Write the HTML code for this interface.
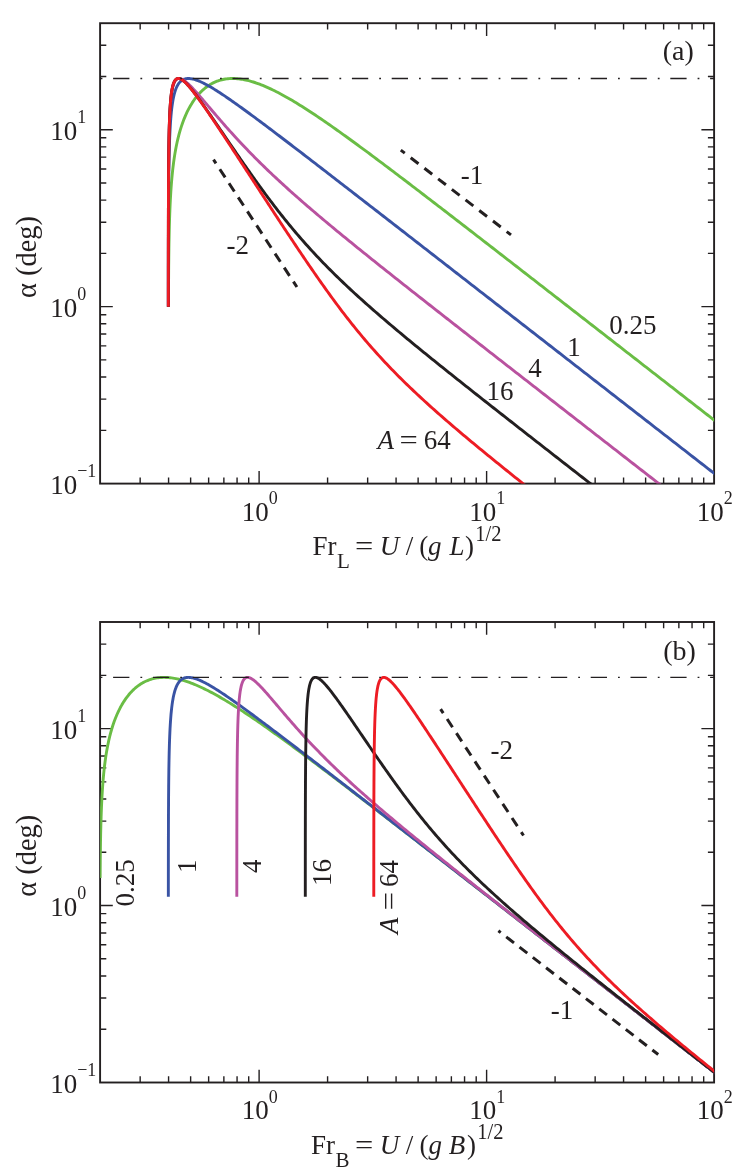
<!DOCTYPE html>
<html><head><meta charset="utf-8"><title>Wake angle</title>
<style>html,body{margin:0;padding:0;background:#fff}svg{display:block;will-change:transform}text{font-family:"Liberation Serif",serif}</style></head>
<body>
<svg width="747" height="1176" viewBox="0 0 747 1176">
<rect width="747" height="1176" fill="#fff"/>
<clipPath id="clipa"><rect x="100.10" y="23.20" width="614.00" height="460.40"/></clipPath>
<rect x="100.10" y="23.20" width="614.00" height="460.40" fill="none" stroke="#231f20" stroke-width="1.9"/>
<g stroke="#231f20" stroke-width="1.4" fill="none"><path d="M140.16,483.60 v-6.20 M140.16,23.20 v6.20"/><path d="M168.58,483.60 v-6.20 M168.58,23.20 v6.20"/><path d="M190.63,483.60 v-6.20 M190.63,23.20 v6.20"/><path d="M208.64,483.60 v-6.20 M208.64,23.20 v6.20"/><path d="M223.87,483.60 v-6.20 M223.87,23.20 v6.20"/><path d="M237.07,483.60 v-6.20 M237.07,23.20 v6.20"/><path d="M248.70,483.60 v-6.20 M248.70,23.20 v6.20"/><path d="M259.11,483.60 v-12.70 M259.11,23.20 v12.70"/><path d="M327.59,483.60 v-6.20 M327.59,23.20 v6.20"/><path d="M367.65,483.60 v-6.20 M367.65,23.20 v6.20"/><path d="M396.08,483.60 v-6.20 M396.08,23.20 v6.20"/><path d="M418.12,483.60 v-6.20 M418.12,23.20 v6.20"/><path d="M436.14,483.60 v-6.20 M436.14,23.20 v6.20"/><path d="M451.37,483.60 v-6.20 M451.37,23.20 v6.20"/><path d="M464.56,483.60 v-6.20 M464.56,23.20 v6.20"/><path d="M476.20,483.60 v-6.20 M476.20,23.20 v6.20"/><path d="M486.61,483.60 v-12.70 M486.61,23.20 v12.70"/><path d="M555.09,483.60 v-6.20 M555.09,23.20 v6.20"/><path d="M595.15,483.60 v-6.20 M595.15,23.20 v6.20"/><path d="M623.57,483.60 v-6.20 M623.57,23.20 v6.20"/><path d="M645.62,483.60 v-6.20 M645.62,23.20 v6.20"/><path d="M663.63,483.60 v-6.20 M663.63,23.20 v6.20"/><path d="M678.86,483.60 v-6.20 M678.86,23.20 v6.20"/><path d="M692.05,483.60 v-6.20 M692.05,23.20 v6.20"/><path d="M703.69,483.60 v-6.20 M703.69,23.20 v6.20"/><path d="M100.10,430.33 h6.20 M714.10,430.33 h-6.20"/><path d="M100.10,399.17 h6.20 M714.10,399.17 h-6.20"/><path d="M100.10,377.07 h6.20 M714.10,377.07 h-6.20"/><path d="M100.10,359.92 h6.20 M714.10,359.92 h-6.20"/><path d="M100.10,345.91 h6.20 M714.10,345.91 h-6.20"/><path d="M100.10,334.06 h6.20 M714.10,334.06 h-6.20"/><path d="M100.10,323.80 h6.20 M714.10,323.80 h-6.20"/><path d="M100.10,314.75 h6.20 M714.10,314.75 h-6.20"/><path d="M100.10,306.65 h12.70 M714.10,306.65 h-12.70"/><path d="M100.10,253.38 h6.20 M714.10,253.38 h-6.20"/><path d="M100.10,222.22 h6.20 M714.10,222.22 h-6.20"/><path d="M100.10,200.12 h6.20 M714.10,200.12 h-6.20"/><path d="M100.10,182.97 h6.20 M714.10,182.97 h-6.20"/><path d="M100.10,168.96 h6.20 M714.10,168.96 h-6.20"/><path d="M100.10,157.11 h6.20 M714.10,157.11 h-6.20"/><path d="M100.10,146.85 h6.20 M714.10,146.85 h-6.20"/><path d="M100.10,137.80 h6.20 M714.10,137.80 h-6.20"/><path d="M100.10,129.70 h12.70 M714.10,129.70 h-12.70"/><path d="M100.10,76.43 h6.20 M714.10,76.43 h-6.20"/><path d="M100.10,45.27 h6.20 M714.10,45.27 h-6.20"/></g>
<g clip-path="url(#clipa)" fill="none" stroke-width="2.9" stroke-linejoin="round">
<path d="M168.45,306.65 L168.46,302.21 L168.48,297.77 L168.50,293.33 L168.52,288.88 L168.55,284.44 L168.58,280.00 L168.61,275.57 L168.64,271.13 L168.68,266.69 L168.73,262.26 L168.78,257.83 L168.83,253.40 L168.89,248.98 L168.96,244.56 L169.04,240.14 L169.13,235.73 L169.22,231.32 L169.33,226.91 L169.45,222.52 L169.59,218.12 L169.74,213.74 L169.91,209.36 L170.10,205.00 L170.31,200.64 L170.55,196.30 L170.81,191.96 L171.10,187.65 L171.42,183.35 L171.78,179.06 L172.18,174.80 L172.62,170.56 L173.11,166.34 L173.64,162.15 L174.23,158.00 L174.88,153.87 L175.59,149.79 L176.36,145.75 L177.21,141.75 L178.13,137.81 L179.14,133.92 L180.22,130.10 L181.40,126.35 L182.66,122.68 L184.02,119.08 L185.48,115.58 L187.03,112.18 L188.69,108.89 L190.44,105.72 L192.31,102.67 L194.28,99.76 L195.05,98.70 L195.84,97.65 L196.65,96.63 L197.47,95.63 L198.30,94.65 L199.15,93.70 L200.02,92.77 L200.90,91.87 L201.80,90.99 L202.71,90.14 L203.64,89.31 L204.58,88.51 L205.54,87.74 L206.51,87.00 L207.50,86.28 L208.51,85.60 L209.53,84.94 L210.56,84.31 L211.61,83.71 L212.68,83.15 L213.76,82.61 L214.85,82.11 L215.96,81.64 L217.09,81.19 L218.23,80.79 L219.39,80.41 L220.56,80.07 L221.75,79.76 L222.95,79.48 L224.17,79.24 L225.40,79.03 L226.65,78.86 L227.92,78.72 L229.20,78.61 L230.49,78.54 L231.80,78.50 L233.13,78.49 L234.47,78.53 L235.82,78.59 L237.20,78.69 L238.58,78.82 L239.99,78.99 L241.40,79.19 L242.83,79.43 L244.28,79.70 L245.75,80.00 L247.22,80.33 L248.72,80.70 L250.22,81.10 L251.75,81.54 L253.28,82.00 L254.84,82.50 L256.40,83.03 L257.98,83.59 L259.58,84.18 L261.19,84.80 L262.81,85.45 L264.45,86.13 L266.10,86.84 L267.77,87.58 L269.45,88.34 L271.14,89.14 L272.85,89.96 L274.57,90.80 L276.30,91.68 L278.04,92.57 L279.80,93.50 L281.57,94.44 L283.35,95.42 L285.14,96.41 L286.95,97.43 L288.76,98.47 L290.59,99.53 L292.43,100.61 L294.28,101.72 L296.14,102.84 L298.01,103.98 L299.89,105.15 L301.78,106.33 L303.67,107.53 L305.58,108.74 L307.50,109.98 L309.42,111.23 L311.36,112.49 L313.30,113.77 L315.25,115.07 L317.21,116.38 L319.18,117.71 L321.15,119.05 L323.13,120.40 L325.12,121.76 L327.12,123.14 L329.12,124.53 L331.13,125.93 L333.14,127.34 L335.16,128.76 L337.18,130.20 L339.22,131.64 L341.25,133.09 L343.29,134.56 L345.34,136.03 L347.39,137.51 L349.45,138.99 L351.51,140.49 L353.58,141.99 L355.64,143.51 L357.72,145.02 L359.80,146.55 L361.88,148.08 L363.96,149.62 L366.05,151.16 L368.14,152.71 L370.24,154.27 L372.33,155.83 L374.44,157.40 L376.54,158.97 L378.65,160.55 L380.76,162.13 L382.87,163.71 L384.98,165.30 L387.10,166.90 L389.22,168.50 L391.34,170.10 L393.46,171.70 L395.59,173.31 L397.71,174.93 L399.84,176.54 L401.97,178.16 L404.11,179.78 L406.24,181.41 L408.38,183.03 L410.51,184.66 L412.65,186.30 L414.79,187.93 L416.93,189.57 L419.08,191.21 L421.22,192.85 L423.36,194.49 L425.51,196.14 L427.66,197.78 L429.81,199.43 L431.96,201.08 L434.11,202.74 L436.26,204.39 L438.41,206.04 L440.56,207.70 L442.72,209.36 L444.87,211.02 L447.02,212.68 L449.18,214.34 L451.34,216.00 L453.49,217.67 L455.65,219.33 L457.81,221.00 L459.97,222.67 L462.13,224.34 L464.29,226.01 L466.45,227.68 L468.61,229.35 L470.77,231.02 L472.93,232.69 L475.10,234.36 L477.26,236.04 L479.42,237.71 L481.59,239.39 L483.75,241.06 L485.91,242.74 L488.08,244.42 L490.24,246.09 L492.41,247.77 L494.57,249.45 L496.74,251.13 L498.91,252.81 L501.07,254.49 L503.24,256.17 L505.40,257.85 L507.57,259.53 L509.74,261.21 L511.91,262.89 L514.07,264.57 L516.24,266.26 L518.41,267.94 L520.58,269.62 L522.74,271.30 L524.91,272.99 L527.08,274.67 L529.25,276.35 L531.42,278.04 L533.59,279.72 L535.76,281.41 L537.93,283.09 L540.10,284.78 L542.26,286.46 L544.43,288.15 L546.60,289.83 L548.77,291.52 L550.94,293.20 L553.11,294.89 L555.28,296.58 L557.45,298.26 L559.62,299.95 L561.79,301.64 L563.96,303.32 L566.13,305.01 L568.30,306.70 L570.47,308.38 L572.64,310.07 L574.82,311.76 L576.99,313.44 L579.16,315.13 L581.33,316.82 L583.50,318.51 L585.67,320.19 L587.84,321.88 L590.01,323.57 L592.18,325.26 L594.35,326.94 L596.52,328.63 L598.69,330.32 L600.87,332.01 L603.04,333.70 L605.21,335.38 L607.38,337.07 L609.55,338.76 L611.72,340.45 L613.89,342.14 L616.06,343.83 L618.23,345.51 L620.41,347.20 L622.58,348.89 L624.75,350.58 L626.92,352.27 L629.09,353.96 L631.26,355.64 L633.43,357.33 L635.61,359.02 L637.78,360.71 L639.95,362.40 L642.12,364.09 L644.29,365.78 L646.46,367.47 L648.63,369.15 L650.81,370.84 L652.98,372.53 L655.15,374.22 L657.32,375.91 L659.49,377.60 L661.66,379.29 L663.83,380.98 L666.01,382.67 L668.18,384.35 L670.35,386.04 L672.52,387.73 L674.69,389.42 L676.86,391.11 L679.04,392.80 L681.21,394.49 L683.38,396.18 L685.55,397.87 L687.72,399.55 L689.89,401.24 L692.07,402.93 L694.24,404.62 L696.41,406.31 L698.58,408.00 L700.75,409.69 L702.92,411.38 L705.10,413.07 L707.27,414.76 L709.44,416.45 L711.61,418.13 L713.78,419.82 L715.95,421.51 L718.13,423.20 L720.30,424.89 L722.47,426.58 L724.64,428.27 L726.81,429.96 L728.98,431.65 L731.16,433.34 L733.33,435.03 L735.50,436.72 L737.67,438.40 L739.84,440.09" stroke="#6abd45"/>
<path d="M168.34,306.65 L168.34,302.21 L168.34,297.77 L168.34,293.33 L168.34,288.88 L168.35,284.44 L168.35,280.00 L168.35,275.57 L168.36,271.13 L168.36,266.69 L168.37,262.26 L168.37,257.83 L168.38,253.40 L168.39,248.98 L168.40,244.56 L168.41,240.14 L168.42,235.73 L168.43,231.32 L168.44,226.91 L168.46,222.52 L168.47,218.12 L168.49,213.74 L168.51,209.36 L168.54,205.00 L168.56,200.64 L168.59,196.30 L168.63,191.96 L168.66,187.65 L168.71,183.35 L168.75,179.06 L168.81,174.80 L168.86,170.56 L168.93,166.34 L169.01,162.15 L169.09,158.00 L169.18,153.87 L169.29,149.79 L169.40,145.75 L169.54,141.75 L169.68,137.81 L169.85,133.92 L170.03,130.10 L170.24,126.35 L170.47,122.68 L170.73,119.08 L171.01,115.58 L171.34,112.18 L171.69,108.89 L172.09,105.72 L172.54,102.67 L173.03,99.76 L173.23,98.70 L173.44,97.65 L173.66,96.63 L173.89,95.63 L174.12,94.65 L174.37,93.70 L174.62,92.77 L174.89,91.87 L175.16,90.99 L175.45,90.14 L175.75,89.31 L176.05,88.51 L176.38,87.74 L176.71,87.00 L177.05,86.28 L177.41,85.60 L177.78,84.94 L178.17,84.31 L178.57,83.71 L178.98,83.15 L179.41,82.61 L179.86,82.11 L180.32,81.64 L180.79,81.19 L181.29,80.79 L181.80,80.41 L182.32,80.07 L182.87,79.76 L183.43,79.48 L184.01,79.24 L184.61,79.03 L185.23,78.86 L185.87,78.72 L186.53,78.61 L187.21,78.54 L187.91,78.50 L188.64,78.49 L189.38,78.53 L190.14,78.59 L190.93,78.69 L191.74,78.82 L192.57,78.99 L193.42,79.19 L194.30,79.43 L195.20,79.70 L196.12,80.00 L197.07,80.33 L198.04,80.70 L199.03,81.10 L200.05,81.54 L201.09,82.00 L202.16,82.50 L203.25,83.03 L204.36,83.59 L205.49,84.18 L206.66,84.80 L207.84,85.45 L209.05,86.13 L210.28,86.84 L211.53,87.58 L212.81,88.34 L214.11,89.14 L215.44,89.96 L216.78,90.80 L218.15,91.68 L219.54,92.57 L220.95,93.50 L222.39,94.44 L223.84,95.42 L225.32,96.41 L226.82,97.43 L228.33,98.47 L229.87,99.53 L231.43,100.61 L233.00,101.72 L234.60,102.84 L236.21,103.98 L237.84,105.15 L239.49,106.33 L241.16,107.53 L242.84,108.74 L244.54,109.98 L246.26,111.23 L247.99,112.49 L249.73,113.77 L251.49,115.07 L253.27,116.38 L255.06,117.71 L256.86,119.05 L258.68,120.40 L260.51,121.76 L262.35,123.14 L264.21,124.53 L266.07,125.93 L267.95,127.34 L269.84,128.76 L271.74,130.20 L273.64,131.64 L275.56,133.09 L277.49,134.56 L279.43,136.03 L281.38,137.51 L283.33,138.99 L285.30,140.49 L287.27,141.99 L289.25,143.51 L291.24,145.02 L293.23,146.55 L295.24,148.08 L297.24,149.62 L299.26,151.16 L301.28,152.71 L303.31,154.27 L305.34,155.83 L307.38,157.40 L309.42,158.97 L311.47,160.55 L313.53,162.13 L315.59,163.71 L317.65,165.30 L319.72,166.90 L321.79,168.50 L323.87,170.10 L325.95,171.70 L328.03,173.31 L330.12,174.93 L332.21,176.54 L334.31,178.16 L336.41,179.78 L338.51,181.41 L340.61,183.03 L342.72,184.66 L344.83,186.30 L346.94,187.93 L349.05,189.57 L351.17,191.21 L353.29,192.85 L355.41,194.49 L357.54,196.14 L359.66,197.78 L361.79,199.43 L363.92,201.08 L366.05,202.74 L368.18,204.39 L370.32,206.04 L372.45,207.70 L374.59,209.36 L376.73,211.02 L378.87,212.68 L381.01,214.34 L383.16,216.00 L385.30,217.67 L387.45,219.33 L389.59,221.00 L391.74,222.67 L393.89,224.34 L396.04,226.01 L398.19,227.68 L400.34,229.35 L402.49,231.02 L404.65,232.69 L406.80,234.36 L408.95,236.04 L411.11,237.71 L413.27,239.39 L415.42,241.06 L417.58,242.74 L419.74,244.42 L421.90,246.09 L424.06,247.77 L426.22,249.45 L428.38,251.13 L430.54,252.81 L432.70,254.49 L434.86,256.17 L437.02,257.85 L439.19,259.53 L441.35,261.21 L443.51,262.89 L445.68,264.57 L447.84,266.26 L450.00,267.94 L452.17,269.62 L454.33,271.30 L456.50,272.99 L458.66,274.67 L460.83,276.35 L463.00,278.04 L465.16,279.72 L467.33,281.41 L469.50,283.09 L471.66,284.78 L473.83,286.46 L476.00,288.15 L478.16,289.83 L480.33,291.52 L482.50,293.20 L484.67,294.89 L486.84,296.58 L489.01,298.26 L491.17,299.95 L493.34,301.64 L495.51,303.32 L497.68,305.01 L499.85,306.70 L502.02,308.38 L504.19,310.07 L506.36,311.76 L508.53,313.44 L510.70,315.13 L512.87,316.82 L515.04,318.51 L517.21,320.19 L519.38,321.88 L521.55,323.57 L523.72,325.26 L525.89,326.94 L528.06,328.63 L530.23,330.32 L532.40,332.01 L534.57,333.70 L536.74,335.38 L538.91,337.07 L541.08,338.76 L543.25,340.45 L545.42,342.14 L547.59,343.83 L549.76,345.51 L551.93,347.20 L554.10,348.89 L556.27,350.58 L558.45,352.27 L560.62,353.96 L562.79,355.64 L564.96,357.33 L567.13,359.02 L569.30,360.71 L571.47,362.40 L573.64,364.09 L575.81,365.78 L577.99,367.47 L580.16,369.15 L582.33,370.84 L584.50,372.53 L586.67,374.22 L588.84,375.91 L591.01,377.60 L593.18,379.29 L595.36,380.98 L597.53,382.67 L599.70,384.35 L601.87,386.04 L604.04,387.73 L606.21,389.42 L608.39,391.11 L610.56,392.80 L612.73,394.49 L614.90,396.18 L617.07,397.87 L619.24,399.55 L621.41,401.24 L623.59,402.93 L625.76,404.62 L627.93,406.31 L630.10,408.00 L632.27,409.69 L634.44,411.38 L636.62,413.07 L638.79,414.76 L640.96,416.45 L643.13,418.13 L645.30,419.82 L647.47,421.51 L649.65,423.20 L651.82,424.89 L653.99,426.58 L656.16,428.27 L658.33,429.96 L660.50,431.65 L662.68,433.34 L664.85,435.03 L667.02,436.72 L669.19,438.40 L671.36,440.09 L673.53,441.78 L675.71,443.47 L677.88,445.16 L680.05,446.85 L682.22,448.54 L684.39,450.23 L686.56,451.92 L688.74,453.61 L690.91,455.30 L693.08,456.99 L695.25,458.68 L697.42,460.36 L699.59,462.05 L701.77,463.74 L703.94,465.43 L706.11,467.12 L708.28,468.81 L710.45,470.50 L712.62,472.19 L714.80,473.88 L716.97,475.57 L719.14,477.26 L721.31,478.95 L723.48,480.64 L725.66,482.32 L727.83,484.01 L730.00,485.70 L732.17,487.39 L734.34,489.08 L736.51,490.77 L738.69,492.46" stroke="#3953a4"/>
<path d="M168.33,306.65 L168.33,302.21 L168.33,297.77 L168.33,293.33 L168.33,288.88 L168.34,284.44 L168.34,280.00 L168.34,275.57 L168.34,271.13 L168.34,266.69 L168.35,262.26 L168.35,257.83 L168.35,253.40 L168.36,248.98 L168.36,244.56 L168.37,240.14 L168.37,235.73 L168.38,231.32 L168.39,226.91 L168.39,222.52 L168.40,218.12 L168.41,213.74 L168.42,209.36 L168.44,205.00 L168.45,200.64 L168.47,196.30 L168.48,191.96 L168.50,187.65 L168.53,183.35 L168.55,179.06 L168.58,174.80 L168.61,170.56 L168.65,166.34 L168.68,162.15 L168.73,158.00 L168.78,153.87 L168.83,149.79 L168.90,145.75 L168.97,141.75 L169.05,137.81 L169.13,133.92 L169.23,130.10 L169.34,126.35 L169.46,122.68 L169.60,119.08 L169.75,115.58 L169.92,112.18 L170.12,108.89 L170.33,105.72 L170.57,102.67 L170.83,99.76 L170.94,98.70 L171.05,97.65 L171.17,96.63 L171.29,95.63 L171.41,94.65 L171.54,93.70 L171.68,92.77 L171.82,91.87 L171.97,90.99 L172.12,90.14 L172.28,89.31 L172.45,88.51 L172.62,87.74 L172.80,87.00 L172.98,86.28 L173.18,85.60 L173.38,84.94 L173.58,84.31 L173.80,83.71 L174.02,83.15 L174.25,82.61 L174.49,82.11 L174.74,81.64 L175.00,81.19 L175.26,80.79 L175.54,80.41 L175.82,80.07 L176.12,79.76 L176.42,79.48 L176.74,79.24 L177.06,79.03 L177.40,78.86 L177.75,78.72 L178.11,78.61 L178.48,78.54 L178.86,78.50 L179.25,78.49 L179.66,78.53 L180.08,78.59 L180.51,78.69 L180.95,78.82 L181.40,78.99 L181.87,79.19 L182.36,79.43 L182.85,79.70 L183.36,80.00 L183.89,80.33 L184.42,80.70 L184.97,81.10 L185.54,81.54 L186.12,82.00 L186.71,82.50 L187.32,83.03 L187.94,83.59 L188.58,84.18 L189.24,84.80 L189.90,85.45 L190.59,86.13 L191.28,86.84 L192.00,87.58 L192.72,88.34 L193.47,89.14 L194.23,89.96 L195.00,90.80 L195.79,91.68 L196.59,92.57 L197.41,93.50 L198.25,94.44 L199.10,95.42 L199.96,96.41 L200.84,97.43 L201.74,98.47 L202.65,99.53 L203.58,100.61 L204.52,101.72 L205.48,102.84 L206.45,103.98 L207.44,105.15 L208.44,106.33 L209.46,107.53 L210.49,108.74 L211.54,109.98 L212.61,111.23 L213.69,112.49 L214.78,113.77 L215.89,115.07 L217.02,116.38 L218.16,117.71 L219.31,119.05 L220.48,120.40 L221.67,121.76 L222.87,123.14 L224.09,124.53 L225.32,125.93 L226.57,127.34 L227.83,128.76 L229.11,130.20 L230.41,131.64 L231.72,133.09 L233.04,134.56 L234.38,136.03 L235.74,137.51 L237.11,138.99 L238.49,140.49 L239.89,141.99 L241.31,143.51 L242.74,145.02 L244.19,146.55 L245.65,148.08 L247.13,149.62 L248.62,151.16 L250.12,152.71 L251.65,154.27 L253.18,155.83 L254.73,157.40 L256.30,158.97 L257.88,160.55 L259.47,162.13 L261.08,163.71 L262.71,165.30 L264.34,166.90 L265.99,168.50 L267.66,170.10 L269.34,171.70 L271.03,173.31 L272.73,174.93 L274.45,176.54 L276.18,178.16 L277.93,179.78 L279.68,181.41 L281.45,183.03 L283.23,184.66 L285.02,186.30 L286.83,187.93 L288.64,189.57 L290.47,191.21 L292.31,192.85 L294.16,194.49 L296.01,196.14 L297.88,197.78 L299.76,199.43 L301.65,201.08 L303.55,202.74 L305.46,204.39 L307.37,206.04 L309.30,207.70 L311.23,209.36 L313.17,211.02 L315.12,212.68 L317.08,214.34 L319.05,216.00 L321.02,217.67 L323.00,219.33 L324.99,221.00 L326.98,222.67 L328.99,224.34 L330.99,226.01 L333.01,227.68 L335.03,229.35 L337.05,231.02 L339.08,232.69 L341.12,234.36 L343.16,236.04 L345.21,237.71 L347.26,239.39 L349.31,241.06 L351.37,242.74 L353.44,244.42 L355.51,246.09 L357.58,247.77 L359.66,249.45 L361.74,251.13 L363.82,252.81 L365.91,254.49 L368.00,256.17 L370.10,257.85 L372.20,259.53 L374.30,261.21 L376.40,262.89 L378.51,264.57 L380.62,266.26 L382.73,267.94 L384.84,269.62 L386.96,271.30 L389.08,272.99 L391.20,274.67 L393.32,276.35 L395.45,278.04 L397.57,279.72 L399.70,281.41 L401.83,283.09 L403.97,284.78 L406.10,286.46 L408.23,288.15 L410.37,289.83 L412.51,291.52 L414.65,293.20 L416.79,294.89 L418.93,296.58 L421.08,298.26 L423.22,299.95 L425.37,301.64 L427.52,303.32 L429.66,305.01 L431.81,306.70 L433.96,308.38 L436.12,310.07 L438.27,311.76 L440.42,313.44 L442.57,315.13 L444.73,316.82 L446.88,318.51 L449.04,320.19 L451.20,321.88 L453.35,323.57 L455.51,325.26 L457.67,326.94 L459.83,328.63 L461.99,330.32 L464.15,332.01 L466.31,333.70 L468.47,335.38 L470.63,337.07 L472.79,338.76 L474.95,340.45 L477.12,342.14 L479.28,343.83 L481.44,345.51 L483.61,347.20 L485.77,348.89 L487.94,350.58 L490.10,352.27 L492.27,353.96 L494.43,355.64 L496.60,357.33 L498.76,359.02 L500.93,360.71 L503.10,362.40 L505.26,364.09 L507.43,365.78 L509.60,367.47 L511.76,369.15 L513.93,370.84 L516.10,372.53 L518.27,374.22 L520.43,375.91 L522.60,377.60 L524.77,379.29 L526.94,380.98 L529.11,382.67 L531.28,384.35 L533.45,386.04 L535.61,387.73 L537.78,389.42 L539.95,391.11 L542.12,392.80 L544.29,394.49 L546.46,396.18 L548.63,397.87 L550.80,399.55 L552.97,401.24 L555.14,402.93 L557.31,404.62 L559.48,406.31 L561.65,408.00 L563.82,409.69 L565.99,411.38 L568.16,413.07 L570.33,414.76 L572.50,416.45 L574.67,418.13 L576.84,419.82 L579.01,421.51 L581.18,423.20 L583.35,424.89 L585.53,426.58 L587.70,428.27 L589.87,429.96 L592.04,431.65 L594.21,433.34 L596.38,435.03 L598.55,436.72 L600.72,438.40 L602.89,440.09 L605.06,441.78 L607.24,443.47 L609.41,445.16 L611.58,446.85 L613.75,448.54 L615.92,450.23 L618.09,451.92 L620.26,453.61 L622.43,455.30 L624.61,456.99 L626.78,458.68 L628.95,460.36 L631.12,462.05 L633.29,463.74 L635.46,465.43 L637.63,467.12 L639.81,468.81 L641.98,470.50 L644.15,472.19 L646.32,473.88 L648.49,475.57 L650.66,477.26 L652.83,478.95 L655.01,480.64 L657.18,482.32 L659.35,484.01 L661.52,485.70 L663.69,487.39 L665.86,489.08 L668.04,490.77 L670.21,492.46 L672.38,494.15 L674.55,495.84 L676.72,497.53 L678.89,499.22 L681.06,500.91 L683.24,502.60 L685.41,504.28 L687.58,505.97 L689.75,507.66 L691.92,509.35" stroke="#b9529f"/>
<path d="M168.33,306.65 L168.33,302.21 L168.33,297.77 L168.33,293.33 L168.33,288.88 L168.33,284.44 L168.34,280.00 L168.34,275.57 L168.34,271.13 L168.34,266.69 L168.35,262.26 L168.35,257.83 L168.35,253.40 L168.36,248.98 L168.36,244.56 L168.36,240.14 L168.37,235.73 L168.38,231.32 L168.38,226.91 L168.39,222.52 L168.40,218.12 L168.41,213.74 L168.42,209.36 L168.43,205.00 L168.44,200.64 L168.46,196.30 L168.47,191.96 L168.49,187.65 L168.51,183.35 L168.54,179.06 L168.56,174.80 L168.59,170.56 L168.63,166.34 L168.66,162.15 L168.71,158.00 L168.75,153.87 L168.81,149.79 L168.86,145.75 L168.93,141.75 L169.00,137.81 L169.09,133.92 L169.18,130.10 L169.28,126.35 L169.40,122.68 L169.53,119.08 L169.67,115.58 L169.83,112.18 L170.01,108.89 L170.21,105.72 L170.44,102.67 L170.68,99.76 L170.79,98.70 L170.89,97.65 L171.00,96.63 L171.11,95.63 L171.23,94.65 L171.36,93.70 L171.48,92.77 L171.62,91.87 L171.76,90.99 L171.90,90.14 L172.05,89.31 L172.20,88.51 L172.37,87.74 L172.53,87.00 L172.71,86.28 L172.89,85.60 L173.07,84.94 L173.27,84.31 L173.47,83.71 L173.68,83.15 L173.89,82.61 L174.11,82.11 L174.35,81.64 L174.59,81.19 L174.83,80.79 L175.09,80.41 L175.35,80.07 L175.63,79.76 L175.91,79.48 L176.20,79.24 L176.51,79.03 L176.82,78.86 L177.14,78.72 L177.47,78.61 L177.81,78.54 L178.16,78.50 L178.53,78.49 L178.90,78.53 L179.29,78.59 L179.68,78.69 L180.09,78.82 L180.51,78.99 L180.94,79.19 L181.38,79.43 L181.83,79.70 L182.29,80.00 L182.77,80.33 L183.26,80.70 L183.76,81.10 L184.27,81.54 L184.80,82.00 L185.33,82.50 L185.88,83.03 L186.44,83.59 L187.02,84.18 L187.60,84.80 L188.20,85.45 L188.81,86.13 L189.43,86.84 L190.06,87.58 L190.71,88.34 L191.36,89.14 L192.03,89.96 L192.71,90.80 L193.40,91.68 L194.11,92.57 L194.82,93.50 L195.55,94.44 L196.28,95.42 L197.03,96.41 L197.79,97.43 L198.55,98.47 L199.33,99.53 L200.12,100.61 L200.92,101.72 L201.73,102.84 L202.55,103.98 L203.38,105.15 L204.22,106.33 L205.06,107.53 L205.92,108.74 L206.78,109.98 L207.66,111.23 L208.54,112.49 L209.43,113.77 L210.33,115.07 L211.23,116.38 L212.15,117.71 L213.07,119.05 L214.00,120.40 L214.94,121.76 L215.88,123.14 L216.83,124.53 L217.79,125.93 L218.76,127.34 L219.73,128.76 L220.71,130.20 L221.69,131.64 L222.68,133.09 L223.68,134.56 L224.68,136.03 L225.69,137.51 L226.70,138.99 L227.73,140.49 L228.75,141.99 L229.78,143.51 L230.82,145.02 L231.87,146.55 L232.91,148.08 L233.97,149.62 L235.03,151.16 L236.09,152.71 L237.16,154.27 L238.24,155.83 L239.32,157.40 L240.41,158.97 L241.50,160.55 L242.59,162.13 L243.70,163.71 L244.80,165.30 L245.92,166.90 L247.04,168.50 L248.16,170.10 L249.29,171.70 L250.42,173.31 L251.56,174.93 L252.71,176.54 L253.86,178.16 L255.02,179.78 L256.18,181.41 L257.35,183.03 L258.53,184.66 L259.71,186.30 L260.90,187.93 L262.09,189.57 L263.29,191.21 L264.50,192.85 L265.71,194.49 L266.93,196.14 L268.16,197.78 L269.40,199.43 L270.64,201.08 L271.89,202.74 L273.15,204.39 L274.42,206.04 L275.69,207.70 L276.97,209.36 L278.26,211.02 L279.56,212.68 L280.87,214.34 L282.19,216.00 L283.51,217.67 L284.85,219.33 L286.19,221.00 L287.55,222.67 L288.91,224.34 L290.29,226.01 L291.67,227.68 L293.06,229.35 L294.47,231.02 L295.88,232.69 L297.31,234.36 L298.75,236.04 L300.19,237.71 L301.65,239.39 L303.12,241.06 L304.61,242.74 L306.10,244.42 L307.60,246.09 L309.12,247.77 L310.65,249.45 L312.19,251.13 L313.74,252.81 L315.30,254.49 L316.88,256.17 L318.47,257.85 L320.07,259.53 L321.68,261.21 L323.31,262.89 L324.94,264.57 L326.59,266.26 L328.25,267.94 L329.93,269.62 L331.61,271.30 L333.31,272.99 L335.02,274.67 L336.74,276.35 L338.47,278.04 L340.21,279.72 L341.97,281.41 L343.73,283.09 L345.51,284.78 L347.30,286.46 L349.10,288.15 L350.91,289.83 L352.73,291.52 L354.56,293.20 L356.40,294.89 L358.25,296.58 L360.11,298.26 L361.98,299.95 L363.86,301.64 L365.75,303.32 L367.65,305.01 L369.56,306.70 L371.48,308.38 L373.40,310.07 L375.34,311.76 L377.28,313.44 L379.23,315.13 L381.18,316.82 L383.15,318.51 L385.12,320.19 L387.10,321.88 L389.09,323.57 L391.08,325.26 L393.08,326.94 L395.08,328.63 L397.09,330.32 L399.11,332.01 L401.13,333.70 L403.16,335.38 L405.20,337.07 L407.24,338.76 L409.28,340.45 L411.33,342.14 L413.38,343.83 L415.44,345.51 L417.50,347.20 L419.57,348.89 L421.64,350.58 L423.72,352.27 L425.80,353.96 L427.88,355.64 L429.97,357.33 L432.05,359.02 L434.15,360.71 L436.24,362.40 L438.34,364.09 L440.44,365.78 L442.55,367.47 L444.66,369.15 L446.77,370.84 L448.88,372.53 L450.99,374.22 L453.11,375.91 L455.23,377.60 L457.35,379.29 L459.48,380.98 L461.60,382.67 L463.73,384.35 L465.86,386.04 L467.99,387.73 L470.12,389.42 L472.26,391.11 L474.39,392.80 L476.53,394.49 L478.67,396.18 L480.81,397.87 L482.95,399.55 L485.09,401.24 L487.24,402.93 L489.38,404.62 L491.53,406.31 L493.68,408.00 L495.83,409.69 L497.98,411.38 L500.13,413.07 L502.28,414.76 L504.43,416.45 L506.58,418.13 L508.74,419.82 L510.89,421.51 L513.05,423.20 L515.20,424.89 L517.36,426.58 L519.52,428.27 L521.67,429.96 L523.83,431.65 L525.99,433.34 L528.15,435.03 L530.31,436.72 L532.47,438.40 L534.63,440.09 L536.80,441.78 L538.96,443.47 L541.12,445.16 L543.28,446.85 L545.45,448.54 L547.61,450.23 L549.77,451.92 L551.94,453.61 L554.10,455.30 L556.27,456.99 L558.43,458.68 L560.60,460.36 L562.76,462.05 L564.93,463.74 L567.10,465.43 L569.26,467.12 L571.43,468.81 L573.60,470.50 L575.76,472.19 L577.93,473.88 L580.10,475.57 L582.27,477.26 L584.43,478.95 L586.60,480.64 L588.77,482.32 L590.94,484.01 L593.11,485.70 L595.27,487.39 L597.44,489.08 L599.61,490.77 L601.78,492.46 L603.95,494.15 L606.12,495.84 L608.29,497.53 L610.46,499.22 L612.63,500.91 L614.80,502.60 L616.97,504.28 L619.14,505.97 L621.31,507.66 L623.48,509.35" stroke="#231f20"/>
<path d="M168.33,306.65 L168.33,302.21 L168.33,297.77 L168.33,293.33 L168.33,288.88 L168.33,284.44 L168.34,280.00 L168.34,275.57 L168.34,271.13 L168.34,266.69 L168.34,262.26 L168.35,257.83 L168.35,253.40 L168.35,248.98 L168.36,244.56 L168.36,240.14 L168.37,235.73 L168.37,231.32 L168.38,226.91 L168.39,222.52 L168.40,218.12 L168.41,213.74 L168.42,209.36 L168.43,205.00 L168.44,200.64 L168.46,196.30 L168.47,191.96 L168.49,187.65 L168.51,183.35 L168.54,179.06 L168.56,174.80 L168.59,170.56 L168.63,166.34 L168.66,162.15 L168.71,158.00 L168.75,153.87 L168.80,149.79 L168.86,145.75 L168.93,141.75 L169.00,137.81 L169.08,133.92 L169.18,130.10 L169.28,126.35 L169.40,122.68 L169.52,119.08 L169.67,115.58 L169.83,112.18 L170.01,108.89 L170.21,105.72 L170.43,102.67 L170.68,99.76 L170.78,98.70 L170.88,97.65 L170.99,96.63 L171.10,95.63 L171.22,94.65 L171.34,93.70 L171.47,92.77 L171.60,91.87 L171.74,90.99 L171.89,90.14 L172.03,89.31 L172.19,88.51 L172.35,87.74 L172.52,87.00 L172.69,86.28 L172.87,85.60 L173.05,84.94 L173.25,84.31 L173.45,83.71 L173.65,83.15 L173.87,82.61 L174.09,82.11 L174.32,81.64 L174.56,81.19 L174.81,80.79 L175.06,80.41 L175.32,80.07 L175.60,79.76 L175.88,79.48 L176.17,79.24 L176.47,79.03 L176.78,78.86 L177.10,78.72 L177.43,78.61 L177.77,78.54 L178.12,78.50 L178.48,78.49 L178.85,78.53 L179.24,78.59 L179.63,78.69 L180.03,78.82 L180.45,78.99 L180.88,79.19 L181.31,79.43 L181.76,79.70 L182.23,80.00 L182.70,80.33 L183.19,80.70 L183.68,81.10 L184.19,81.54 L184.71,82.00 L185.24,82.50 L185.79,83.03 L186.35,83.59 L186.91,84.18 L187.50,84.80 L188.09,85.45 L188.69,86.13 L189.31,86.84 L189.94,87.58 L190.57,88.34 L191.23,89.14 L191.89,89.96 L192.56,90.80 L193.25,91.68 L193.94,92.57 L194.65,93.50 L195.37,94.44 L196.09,95.42 L196.83,96.41 L197.58,97.43 L198.34,98.47 L199.11,99.53 L199.89,100.61 L200.68,101.72 L201.48,102.84 L202.28,103.98 L203.10,105.15 L203.93,106.33 L204.76,107.53 L205.60,108.74 L206.45,109.98 L207.31,111.23 L208.18,112.49 L209.05,113.77 L209.93,115.07 L210.82,116.38 L211.72,117.71 L212.62,119.05 L213.53,120.40 L214.45,121.76 L215.37,123.14 L216.30,124.53 L217.23,125.93 L218.17,127.34 L219.12,128.76 L220.07,130.20 L221.03,131.64 L221.99,133.09 L222.96,134.56 L223.93,136.03 L224.90,137.51 L225.88,138.99 L226.87,140.49 L227.86,141.99 L228.85,143.51 L229.85,145.02 L230.85,146.55 L231.85,148.08 L232.86,149.62 L233.87,151.16 L234.88,152.71 L235.90,154.27 L236.92,155.83 L237.95,157.40 L238.97,158.97 L240.00,160.55 L241.03,162.13 L242.07,163.71 L243.10,165.30 L244.14,166.90 L245.19,168.50 L246.23,170.10 L247.28,171.70 L248.32,173.31 L249.37,174.93 L250.43,176.54 L251.48,178.16 L252.54,179.78 L253.60,181.41 L254.66,183.03 L255.72,184.66 L256.78,186.30 L257.85,187.93 L258.91,189.57 L259.98,191.21 L261.05,192.85 L262.13,194.49 L263.20,196.14 L264.27,197.78 L265.35,199.43 L266.43,201.08 L267.51,202.74 L268.59,204.39 L269.67,206.04 L270.75,207.70 L271.84,209.36 L272.93,211.02 L274.01,212.68 L275.10,214.34 L276.19,216.00 L277.29,217.67 L278.38,219.33 L279.48,221.00 L280.57,222.67 L281.67,224.34 L282.77,226.01 L283.87,227.68 L284.98,229.35 L286.08,231.02 L287.19,232.69 L288.30,234.36 L289.41,236.04 L290.52,237.71 L291.63,239.39 L292.75,241.06 L293.86,242.74 L294.98,244.42 L296.11,246.09 L297.23,247.77 L298.35,249.45 L299.48,251.13 L300.61,252.81 L301.74,254.49 L302.88,256.17 L304.02,257.85 L305.16,259.53 L306.30,261.21 L307.45,262.89 L308.59,264.57 L309.75,266.26 L310.90,267.94 L312.06,269.62 L313.22,271.30 L314.38,272.99 L315.55,274.67 L316.72,276.35 L317.90,278.04 L319.08,279.72 L320.26,281.41 L321.45,283.09 L322.64,284.78 L323.83,286.46 L325.04,288.15 L326.24,289.83 L327.45,291.52 L328.67,293.20 L329.89,294.89 L331.11,296.58 L332.35,298.26 L333.58,299.95 L334.83,301.64 L336.08,303.32 L337.33,305.01 L338.60,306.70 L339.86,308.38 L341.14,310.07 L342.42,311.76 L343.71,313.44 L345.01,315.13 L346.32,316.82 L347.63,318.51 L348.95,320.19 L350.28,321.88 L351.62,323.57 L352.97,325.26 L354.32,326.94 L355.69,328.63 L357.06,330.32 L358.45,332.01 L359.84,333.70 L361.24,335.38 L362.66,337.07 L364.08,338.76 L365.51,340.45 L366.96,342.14 L368.41,343.83 L369.88,345.51 L371.35,347.20 L372.84,348.89 L374.34,350.58 L375.85,352.27 L377.37,353.96 L378.90,355.64 L380.45,357.33 L382.01,359.02 L383.57,360.71 L385.15,362.40 L386.75,364.09 L388.35,365.78 L389.97,367.47 L391.59,369.15 L393.23,370.84 L394.88,372.53 L396.55,374.22 L398.22,375.91 L399.91,377.60 L401.61,379.29 L403.32,380.98 L405.04,382.67 L406.78,384.35 L408.52,386.04 L410.28,387.73 L412.05,389.42 L413.82,391.11 L415.61,392.80 L417.42,394.49 L419.23,396.18 L421.05,397.87 L422.88,399.55 L424.72,401.24 L426.58,402.93 L428.44,404.62 L430.31,406.31 L432.19,408.00 L434.08,409.69 L435.98,411.38 L437.89,413.07 L439.81,414.76 L441.73,416.45 L443.67,418.13 L445.61,419.82 L447.56,421.51 L449.52,423.20 L451.48,424.89 L453.45,426.58 L455.43,428.27 L457.42,429.96 L459.41,431.65 L461.41,433.34 L463.42,435.03 L465.43,436.72 L467.45,438.40 L469.47,440.09 L471.50,441.78 L473.53,443.47 L475.57,445.16 L477.62,446.85 L479.67,448.54 L481.72,450.23 L483.78,451.92 L485.84,453.61 L487.91,455.30 L489.98,456.99 L492.05,458.68 L494.13,460.36 L496.22,462.05 L498.30,463.74 L500.39,465.43 L502.49,467.12 L504.58,468.81 L506.68,470.50 L508.78,472.19 L510.89,473.88 L512.99,475.57 L515.10,477.26 L517.22,478.95 L519.33,480.64 L521.45,482.32 L523.57,484.01 L525.69,485.70 L527.81,487.39 L529.94,489.08 L532.07,490.77 L534.20,492.46 L536.33,494.15 L538.46,495.84 L540.60,497.53 L542.73,499.22 L544.87,500.91 L547.01,502.60 L549.15,504.28 L551.29,505.97 L553.43,507.66 L555.58,509.35" stroke="#ed1c24"/>
<path d="M73.3,78.50 H714.10" stroke="#231f20" stroke-width="1.3" stroke-dasharray="16.3 11 1.8 10.7"/>
</g>
<clipPath id="clipb"><rect x="100.10" y="622.00" width="614.00" height="460.50"/></clipPath>
<rect x="100.10" y="622.00" width="614.00" height="460.50" fill="none" stroke="#231f20" stroke-width="1.9"/>
<g stroke="#231f20" stroke-width="1.4" fill="none"><path d="M140.16,1082.50 v-6.20 M140.16,622.00 v6.20"/><path d="M168.58,1082.50 v-6.20 M168.58,622.00 v6.20"/><path d="M190.63,1082.50 v-6.20 M190.63,622.00 v6.20"/><path d="M208.64,1082.50 v-6.20 M208.64,622.00 v6.20"/><path d="M223.87,1082.50 v-6.20 M223.87,622.00 v6.20"/><path d="M237.07,1082.50 v-6.20 M237.07,622.00 v6.20"/><path d="M248.70,1082.50 v-6.20 M248.70,622.00 v6.20"/><path d="M259.11,1082.50 v-12.70 M259.11,622.00 v12.70"/><path d="M327.59,1082.50 v-6.20 M327.59,622.00 v6.20"/><path d="M367.65,1082.50 v-6.20 M367.65,622.00 v6.20"/><path d="M396.08,1082.50 v-6.20 M396.08,622.00 v6.20"/><path d="M418.12,1082.50 v-6.20 M418.12,622.00 v6.20"/><path d="M436.14,1082.50 v-6.20 M436.14,622.00 v6.20"/><path d="M451.37,1082.50 v-6.20 M451.37,622.00 v6.20"/><path d="M464.56,1082.50 v-6.20 M464.56,622.00 v6.20"/><path d="M476.20,1082.50 v-6.20 M476.20,622.00 v6.20"/><path d="M486.61,1082.50 v-12.70 M486.61,622.00 v12.70"/><path d="M555.09,1082.50 v-6.20 M555.09,622.00 v6.20"/><path d="M595.15,1082.50 v-6.20 M595.15,622.00 v6.20"/><path d="M623.57,1082.50 v-6.20 M623.57,622.00 v6.20"/><path d="M645.62,1082.50 v-6.20 M645.62,622.00 v6.20"/><path d="M663.63,1082.50 v-6.20 M663.63,622.00 v6.20"/><path d="M678.86,1082.50 v-6.20 M678.86,622.00 v6.20"/><path d="M692.05,1082.50 v-6.20 M692.05,622.00 v6.20"/><path d="M703.69,1082.50 v-6.20 M703.69,622.00 v6.20"/><path d="M100.10,1029.23 h6.20 M714.10,1029.23 h-6.20"/><path d="M100.10,998.07 h6.20 M714.10,998.07 h-6.20"/><path d="M100.10,975.97 h6.20 M714.10,975.97 h-6.20"/><path d="M100.10,958.82 h6.20 M714.10,958.82 h-6.20"/><path d="M100.10,944.81 h6.20 M714.10,944.81 h-6.20"/><path d="M100.10,932.96 h6.20 M714.10,932.96 h-6.20"/><path d="M100.10,922.70 h6.20 M714.10,922.70 h-6.20"/><path d="M100.10,913.65 h6.20 M714.10,913.65 h-6.20"/><path d="M100.10,905.55 h12.70 M714.10,905.55 h-12.70"/><path d="M100.10,852.28 h6.20 M714.10,852.28 h-6.20"/><path d="M100.10,821.12 h6.20 M714.10,821.12 h-6.20"/><path d="M100.10,799.02 h6.20 M714.10,799.02 h-6.20"/><path d="M100.10,781.87 h6.20 M714.10,781.87 h-6.20"/><path d="M100.10,767.86 h6.20 M714.10,767.86 h-6.20"/><path d="M100.10,756.01 h6.20 M714.10,756.01 h-6.20"/><path d="M100.10,745.75 h6.20 M714.10,745.75 h-6.20"/><path d="M100.10,736.70 h6.20 M714.10,736.70 h-6.20"/><path d="M100.10,728.60 h12.70 M714.10,728.60 h-12.70"/><path d="M100.10,675.33 h6.20 M714.10,675.33 h-6.20"/><path d="M100.10,644.17 h6.20 M714.10,644.17 h-6.20"/></g>
<g clip-path="url(#clipb)" fill="none" stroke-width="2.9" stroke-linejoin="round">
<path d="M100.10,878.03 L100.13,874.47 L100.16,870.03 L100.20,865.59 L100.24,861.16 L100.29,856.73 L100.35,852.30 L100.41,847.88 L100.48,843.46 L100.56,839.04 L100.64,834.63 L100.74,830.22 L100.85,825.81 L100.97,821.42 L101.11,817.02 L101.26,812.64 L101.43,808.26 L101.62,803.90 L101.83,799.54 L102.07,795.20 L102.33,790.86 L102.62,786.55 L102.94,782.25 L103.30,777.96 L103.70,773.70 L104.14,769.46 L104.62,765.24 L105.16,761.05 L105.75,756.90 L106.39,752.77 L107.10,748.69 L107.88,744.65 L108.73,740.65 L109.65,736.71 L110.65,732.82 L111.74,729.00 L112.91,725.25 L114.18,721.58 L115.54,717.98 L116.99,714.48 L118.55,711.08 L120.20,707.79 L121.96,704.62 L123.83,701.57 L125.79,698.66 L126.57,697.60 L127.36,696.55 L128.16,695.53 L128.98,694.53 L129.82,693.55 L130.67,692.60 L131.54,691.67 L132.42,690.77 L133.32,689.89 L134.23,689.04 L135.16,688.21 L136.10,687.41 L137.06,686.64 L138.03,685.90 L139.02,685.18 L140.02,684.50 L141.04,683.84 L142.08,683.21 L143.13,682.61 L144.19,682.05 L145.27,681.51 L146.37,681.01 L147.48,680.54 L148.61,680.09 L149.75,679.69 L150.91,679.31 L152.08,678.97 L153.27,678.66 L154.47,678.38 L155.69,678.14 L156.92,677.93 L158.17,677.76 L159.44,677.62 L160.71,677.51 L162.01,677.44 L163.32,677.40 L164.65,677.39 L165.99,677.43 L167.34,677.49 L168.71,677.59 L170.10,677.72 L171.50,677.89 L172.92,678.09 L174.35,678.33 L175.80,678.60 L177.26,678.90 L178.74,679.23 L180.23,679.60 L181.74,680.00 L183.26,680.44 L184.80,680.90 L186.35,681.40 L187.92,681.93 L189.50,682.49 L191.10,683.08 L192.71,683.70 L194.33,684.35 L195.97,685.03 L197.62,685.74 L199.29,686.48 L200.97,687.24 L202.66,688.04 L204.36,688.86 L206.08,689.70 L207.82,690.58 L209.56,691.47 L211.32,692.40 L213.09,693.34 L214.87,694.32 L216.66,695.31 L218.46,696.33 L220.28,697.37 L222.11,698.43 L223.95,699.51 L225.79,700.62 L227.65,701.74 L229.52,702.88 L231.40,704.05 L233.29,705.23 L235.19,706.43 L237.10,707.64 L239.02,708.88 L240.94,710.13 L242.88,711.39 L244.82,712.67 L246.77,713.97 L248.73,715.28 L250.70,716.61 L252.67,717.95 L254.65,719.30 L256.64,720.66 L258.63,722.04 L260.63,723.43 L262.64,724.83 L264.66,726.24 L266.68,727.66 L268.70,729.10 L270.73,730.54 L272.77,731.99 L274.81,733.46 L276.86,734.93 L278.91,736.41 L280.97,737.89 L283.03,739.39 L285.09,740.89 L287.16,742.41 L289.24,743.92 L291.31,745.45 L293.39,746.98 L295.48,748.52 L297.57,750.06 L299.66,751.61 L301.75,753.17 L303.85,754.73 L305.95,756.30 L308.06,757.87 L310.16,759.45 L312.27,761.03 L314.38,762.61 L316.50,764.20 L318.62,765.80 L320.73,767.40 L322.86,769.00 L324.98,770.60 L327.10,772.21 L329.23,773.83 L331.36,775.44 L333.49,777.06 L335.62,778.68 L337.76,780.31 L339.89,781.93 L342.03,783.56 L344.17,785.20 L346.31,786.83 L348.45,788.47 L350.59,790.11 L352.74,791.75 L354.88,793.39 L357.03,795.04 L359.18,796.68 L361.32,798.33 L363.47,799.98 L365.62,801.64 L367.77,803.29 L369.93,804.94 L372.08,806.60 L374.23,808.26 L376.39,809.92 L378.54,811.58 L380.70,813.24 L382.85,814.90 L385.01,816.57 L387.17,818.23 L389.33,819.90 L391.49,821.57 L393.65,823.24 L395.81,824.91 L397.97,826.58 L400.13,828.25 L402.29,829.92 L404.45,831.59 L406.61,833.26 L408.78,834.94 L410.94,836.61 L413.10,838.29 L415.27,839.96 L417.43,841.64 L419.60,843.32 L421.76,844.99 L423.93,846.67 L426.09,848.35 L428.26,850.03 L430.42,851.71 L432.59,853.39 L434.76,855.07 L436.92,856.75 L439.09,858.43 L441.26,860.11 L443.42,861.79 L445.59,863.47 L447.76,865.16 L449.93,866.84 L452.09,868.52 L454.26,870.20 L456.43,871.89 L458.60,873.57 L460.77,875.25 L462.94,876.94 L465.11,878.62 L467.27,880.31 L469.44,881.99 L471.61,883.68 L473.78,885.36 L475.95,887.05 L478.12,888.73 L480.29,890.42 L482.46,892.10 L484.63,893.79 L486.80,895.48 L488.97,897.16 L491.14,898.85 L493.31,900.54 L495.48,902.22 L497.65,903.91 L499.82,905.60 L501.99,907.28 L504.16,908.97 L506.33,910.66 L508.50,912.34 L510.67,914.03 L512.84,915.72 L515.02,917.41 L517.19,919.09 L519.36,920.78 L521.53,922.47 L523.70,924.16 L525.87,925.84 L528.04,927.53 L530.21,929.22 L532.38,930.91 L534.55,932.60 L536.72,934.28 L538.90,935.97 L541.07,937.66 L543.24,939.35 L545.41,941.04 L547.58,942.73 L549.75,944.41 L551.92,946.10 L554.09,947.79 L556.27,949.48 L558.44,951.17 L560.61,952.86 L562.78,954.54 L564.95,956.23 L567.12,957.92 L569.29,959.61 L571.47,961.30 L573.64,962.99 L575.81,964.68 L577.98,966.37 L580.15,968.05 L582.32,969.74 L584.49,971.43 L586.67,973.12 L588.84,974.81 L591.01,976.50 L593.18,978.19 L595.35,979.88 L597.52,981.57 L599.70,983.25 L601.87,984.94 L604.04,986.63 L606.21,988.32 L608.38,990.01 L610.55,991.70 L612.73,993.39 L614.90,995.08 L617.07,996.77 L619.24,998.45 L621.41,1000.14 L623.58,1001.83 L625.76,1003.52 L627.93,1005.21 L630.10,1006.90 L632.27,1008.59 L634.44,1010.28 L636.61,1011.97 L638.79,1013.66 L640.96,1015.35 L643.13,1017.03 L645.30,1018.72 L647.47,1020.41 L649.64,1022.10 L651.82,1023.79 L653.99,1025.48 L656.16,1027.17 L658.33,1028.86 L660.50,1030.55 L662.67,1032.24 L664.85,1033.93 L667.02,1035.62 L669.19,1037.30 L671.36,1038.99 L673.53,1040.68 L675.70,1042.37 L677.88,1044.06 L680.05,1045.75 L682.22,1047.44 L684.39,1049.13 L686.56,1050.82 L688.73,1052.51 L690.91,1054.20 L693.08,1055.89 L695.25,1057.58 L697.42,1059.26 L699.59,1060.95 L701.77,1062.64 L703.94,1064.33 L706.11,1066.02 L708.28,1067.71 L710.45,1069.40 L712.62,1071.09 L714.80,1072.78 L716.97,1074.47 L719.14,1076.16 L721.31,1077.85 L723.48,1079.54 L725.65,1081.22 L727.83,1082.91 L730.00,1084.60 L732.17,1086.29 L734.34,1087.98 L736.51,1089.67 L738.69,1091.36" stroke="#6abd45"/>
<path d="M168.34,896.84 L168.34,896.67 L168.34,892.23 L168.34,887.78 L168.35,883.34 L168.35,878.90 L168.35,874.47 L168.36,870.03 L168.36,865.59 L168.37,861.16 L168.37,856.73 L168.38,852.30 L168.39,847.88 L168.40,843.46 L168.41,839.04 L168.42,834.63 L168.43,830.22 L168.44,825.81 L168.46,821.42 L168.47,817.02 L168.49,812.64 L168.51,808.26 L168.54,803.90 L168.56,799.54 L168.59,795.20 L168.63,790.86 L168.66,786.55 L168.71,782.25 L168.75,777.96 L168.81,773.70 L168.86,769.46 L168.93,765.24 L169.01,761.05 L169.09,756.90 L169.18,752.77 L169.29,748.69 L169.40,744.65 L169.54,740.65 L169.68,736.71 L169.85,732.82 L170.03,729.00 L170.24,725.25 L170.47,721.58 L170.73,717.98 L171.01,714.48 L171.34,711.08 L171.69,707.79 L172.09,704.62 L172.54,701.57 L173.03,698.66 L173.23,697.60 L173.44,696.55 L173.66,695.53 L173.89,694.53 L174.12,693.55 L174.37,692.60 L174.62,691.67 L174.89,690.77 L175.16,689.89 L175.45,689.04 L175.75,688.21 L176.05,687.41 L176.38,686.64 L176.71,685.90 L177.05,685.18 L177.41,684.50 L177.78,683.84 L178.17,683.21 L178.57,682.61 L178.98,682.05 L179.41,681.51 L179.86,681.01 L180.32,680.54 L180.79,680.09 L181.29,679.69 L181.80,679.31 L182.32,678.97 L182.87,678.66 L183.43,678.38 L184.01,678.14 L184.61,677.93 L185.23,677.76 L185.87,677.62 L186.53,677.51 L187.21,677.44 L187.91,677.40 L188.64,677.39 L189.38,677.43 L190.14,677.49 L190.93,677.59 L191.74,677.72 L192.57,677.89 L193.42,678.09 L194.30,678.33 L195.20,678.60 L196.12,678.90 L197.07,679.23 L198.04,679.60 L199.03,680.00 L200.05,680.44 L201.09,680.90 L202.16,681.40 L203.25,681.93 L204.36,682.49 L205.49,683.08 L206.66,683.70 L207.84,684.35 L209.05,685.03 L210.28,685.74 L211.53,686.48 L212.81,687.24 L214.11,688.04 L215.44,688.86 L216.78,689.70 L218.15,690.58 L219.54,691.47 L220.95,692.40 L222.39,693.34 L223.84,694.32 L225.32,695.31 L226.82,696.33 L228.33,697.37 L229.87,698.43 L231.43,699.51 L233.00,700.62 L234.60,701.74 L236.21,702.88 L237.84,704.05 L239.49,705.23 L241.16,706.43 L242.84,707.64 L244.54,708.88 L246.26,710.13 L247.99,711.39 L249.73,712.67 L251.49,713.97 L253.27,715.28 L255.06,716.61 L256.86,717.95 L258.68,719.30 L260.51,720.66 L262.35,722.04 L264.21,723.43 L266.07,724.83 L267.95,726.24 L269.84,727.66 L271.74,729.10 L273.64,730.54 L275.56,731.99 L277.49,733.46 L279.43,734.93 L281.38,736.41 L283.33,737.89 L285.30,739.39 L287.27,740.89 L289.25,742.41 L291.24,743.92 L293.23,745.45 L295.24,746.98 L297.24,748.52 L299.26,750.06 L301.28,751.61 L303.31,753.17 L305.34,754.73 L307.38,756.30 L309.42,757.87 L311.47,759.45 L313.53,761.03 L315.59,762.61 L317.65,764.20 L319.72,765.80 L321.79,767.40 L323.87,769.00 L325.95,770.60 L328.03,772.21 L330.12,773.83 L332.21,775.44 L334.31,777.06 L336.41,778.68 L338.51,780.31 L340.61,781.93 L342.72,783.56 L344.83,785.20 L346.94,786.83 L349.05,788.47 L351.17,790.11 L353.29,791.75 L355.41,793.39 L357.54,795.04 L359.66,796.68 L361.79,798.33 L363.92,799.98 L366.05,801.64 L368.18,803.29 L370.32,804.94 L372.45,806.60 L374.59,808.26 L376.73,809.92 L378.87,811.58 L381.01,813.24 L383.16,814.90 L385.30,816.57 L387.45,818.23 L389.59,819.90 L391.74,821.57 L393.89,823.24 L396.04,824.91 L398.19,826.58 L400.34,828.25 L402.49,829.92 L404.65,831.59 L406.80,833.26 L408.95,834.94 L411.11,836.61 L413.27,838.29 L415.42,839.96 L417.58,841.64 L419.74,843.32 L421.90,844.99 L424.06,846.67 L426.22,848.35 L428.38,850.03 L430.54,851.71 L432.70,853.39 L434.86,855.07 L437.02,856.75 L439.19,858.43 L441.35,860.11 L443.51,861.79 L445.68,863.47 L447.84,865.16 L450.00,866.84 L452.17,868.52 L454.33,870.20 L456.50,871.89 L458.66,873.57 L460.83,875.25 L463.00,876.94 L465.16,878.62 L467.33,880.31 L469.50,881.99 L471.66,883.68 L473.83,885.36 L476.00,887.05 L478.16,888.73 L480.33,890.42 L482.50,892.10 L484.67,893.79 L486.84,895.48 L489.01,897.16 L491.17,898.85 L493.34,900.54 L495.51,902.22 L497.68,903.91 L499.85,905.60 L502.02,907.28 L504.19,908.97 L506.36,910.66 L508.53,912.34 L510.70,914.03 L512.87,915.72 L515.04,917.41 L517.21,919.09 L519.38,920.78 L521.55,922.47 L523.72,924.16 L525.89,925.84 L528.06,927.53 L530.23,929.22 L532.40,930.91 L534.57,932.60 L536.74,934.28 L538.91,935.97 L541.08,937.66 L543.25,939.35 L545.42,941.04 L547.59,942.73 L549.76,944.41 L551.93,946.10 L554.10,947.79 L556.27,949.48 L558.45,951.17 L560.62,952.86 L562.79,954.54 L564.96,956.23 L567.13,957.92 L569.30,959.61 L571.47,961.30 L573.64,962.99 L575.81,964.68 L577.99,966.37 L580.16,968.05 L582.33,969.74 L584.50,971.43 L586.67,973.12 L588.84,974.81 L591.01,976.50 L593.18,978.19 L595.36,979.88 L597.53,981.57 L599.70,983.25 L601.87,984.94 L604.04,986.63 L606.21,988.32 L608.39,990.01 L610.56,991.70 L612.73,993.39 L614.90,995.08 L617.07,996.77 L619.24,998.45 L621.41,1000.14 L623.59,1001.83 L625.76,1003.52 L627.93,1005.21 L630.10,1006.90 L632.27,1008.59 L634.44,1010.28 L636.62,1011.97 L638.79,1013.66 L640.96,1015.35 L643.13,1017.03 L645.30,1018.72 L647.47,1020.41 L649.65,1022.10 L651.82,1023.79 L653.99,1025.48 L656.16,1027.17 L658.33,1028.86 L660.50,1030.55 L662.68,1032.24 L664.85,1033.93 L667.02,1035.62 L669.19,1037.30 L671.36,1038.99 L673.53,1040.68 L675.71,1042.37 L677.88,1044.06 L680.05,1045.75 L682.22,1047.44 L684.39,1049.13 L686.56,1050.82 L688.74,1052.51 L690.91,1054.20 L693.08,1055.89 L695.25,1057.58 L697.42,1059.26 L699.59,1060.95 L701.77,1062.64 L703.94,1064.33 L706.11,1066.02 L708.28,1067.71 L710.45,1069.40 L712.62,1071.09 L714.80,1072.78 L716.97,1074.47 L719.14,1076.16 L721.31,1077.85 L723.48,1079.54 L725.66,1081.22 L727.83,1082.91 L730.00,1084.60 L732.17,1086.29 L734.34,1087.98 L736.51,1089.67 L738.69,1091.36" stroke="#3953a4"/>
<path d="M236.81,896.84 L236.81,896.67 L236.81,892.23 L236.82,887.78 L236.82,883.34 L236.82,878.90 L236.82,874.47 L236.82,870.03 L236.83,865.59 L236.83,861.16 L236.83,856.73 L236.84,852.30 L236.84,847.88 L236.84,843.46 L236.85,839.04 L236.85,834.63 L236.86,830.22 L236.87,825.81 L236.88,821.42 L236.88,817.02 L236.89,812.64 L236.91,808.26 L236.92,803.90 L236.93,799.54 L236.95,795.20 L236.97,790.86 L236.99,786.55 L237.01,782.25 L237.03,777.96 L237.06,773.70 L237.09,769.46 L237.13,765.24 L237.17,761.05 L237.21,756.90 L237.26,752.77 L237.32,748.69 L237.38,744.65 L237.45,740.65 L237.53,736.71 L237.62,732.82 L237.71,729.00 L237.82,725.25 L237.95,721.58 L238.08,717.98 L238.24,714.48 L238.41,711.08 L238.60,707.79 L238.81,704.62 L239.05,701.57 L239.31,698.66 L239.42,697.60 L239.53,696.55 L239.65,695.53 L239.77,694.53 L239.90,693.55 L240.03,692.60 L240.16,691.67 L240.30,690.77 L240.45,689.89 L240.61,689.04 L240.77,688.21 L240.93,687.41 L241.10,686.64 L241.28,685.90 L241.47,685.18 L241.66,684.50 L241.86,683.84 L242.07,683.21 L242.28,682.61 L242.50,682.05 L242.74,681.51 L242.97,681.01 L243.22,680.54 L243.48,680.09 L243.75,679.69 L244.02,679.31 L244.31,678.97 L244.60,678.66 L244.91,678.38 L245.22,678.14 L245.55,677.93 L245.88,677.76 L246.23,677.62 L246.59,677.51 L246.96,677.44 L247.34,677.40 L247.73,677.39 L248.14,677.43 L248.56,677.49 L248.99,677.59 L249.43,677.72 L249.89,677.89 L250.36,678.09 L250.84,678.33 L251.33,678.60 L251.84,678.90 L252.37,679.23 L252.90,679.60 L253.46,680.00 L254.02,680.44 L254.60,680.90 L255.20,681.40 L255.80,681.93 L256.43,682.49 L257.07,683.08 L257.72,683.70 L258.39,684.35 L259.07,685.03 L259.77,685.74 L260.48,686.48 L261.21,687.24 L261.95,688.04 L262.71,688.86 L263.48,689.70 L264.27,690.58 L265.07,691.47 L265.89,692.40 L266.73,693.34 L267.58,694.32 L268.44,695.31 L269.33,696.33 L270.22,697.37 L271.13,698.43 L272.06,699.51 L273.00,700.62 L273.96,701.74 L274.93,702.88 L275.92,704.05 L276.92,705.23 L277.94,706.43 L278.98,707.64 L280.02,708.88 L281.09,710.13 L282.17,711.39 L283.26,712.67 L284.37,713.97 L285.50,715.28 L286.64,716.61 L287.80,717.95 L288.97,719.30 L290.15,720.66 L291.36,722.04 L292.57,723.43 L293.81,724.83 L295.05,726.24 L296.32,727.66 L297.60,729.10 L298.89,730.54 L300.20,731.99 L301.52,733.46 L302.86,734.93 L304.22,736.41 L305.59,737.89 L306.97,739.39 L308.37,740.89 L309.79,742.41 L311.22,743.92 L312.67,745.45 L314.13,746.98 L315.61,748.52 L317.10,750.06 L318.61,751.61 L320.13,753.17 L321.66,754.73 L323.22,756.30 L324.78,757.87 L326.36,759.45 L327.96,761.03 L329.57,762.61 L331.19,764.20 L332.83,765.80 L334.48,767.40 L336.14,769.00 L337.82,770.60 L339.51,772.21 L341.22,773.83 L342.94,775.44 L344.67,777.06 L346.41,778.68 L348.17,780.31 L349.93,781.93 L351.71,783.56 L353.51,785.20 L355.31,786.83 L357.13,788.47 L358.95,790.11 L360.79,791.75 L362.64,793.39 L364.50,795.04 L366.37,796.68 L368.24,798.33 L370.13,799.98 L372.03,801.64 L373.94,803.29 L375.86,804.94 L377.78,806.60 L379.71,808.26 L381.66,809.92 L383.61,811.58 L385.57,813.24 L387.53,814.90 L389.50,816.57 L391.49,818.23 L393.47,819.90 L395.47,821.57 L397.47,823.24 L399.48,824.91 L401.49,826.58 L403.51,828.25 L405.53,829.92 L407.56,831.59 L409.60,833.26 L411.64,834.94 L413.69,836.61 L415.74,838.29 L417.80,839.96 L419.86,841.64 L421.92,843.32 L423.99,844.99 L426.06,846.67 L428.14,848.35 L430.22,850.03 L432.31,851.71 L434.40,853.39 L436.49,855.07 L438.58,856.75 L440.68,858.43 L442.78,860.11 L444.88,861.79 L446.99,863.47 L449.10,865.16 L451.21,866.84 L453.32,868.52 L455.44,870.20 L457.56,871.89 L459.68,873.57 L461.80,875.25 L463.93,876.94 L466.06,878.62 L468.18,880.31 L470.32,881.99 L472.45,883.68 L474.58,885.36 L476.72,887.05 L478.85,888.73 L480.99,890.42 L483.13,892.10 L485.27,893.79 L487.42,895.48 L489.56,897.16 L491.71,898.85 L493.85,900.54 L496.00,902.22 L498.15,903.91 L500.30,905.60 L502.45,907.28 L504.60,908.97 L506.75,910.66 L508.90,912.34 L511.06,914.03 L513.21,915.72 L515.37,917.41 L517.52,919.09 L519.68,920.78 L521.83,922.47 L523.99,924.16 L526.15,925.84 L528.31,927.53 L530.47,929.22 L532.63,930.91 L534.79,932.60 L536.95,934.28 L539.11,935.97 L541.27,937.66 L543.44,939.35 L545.60,941.04 L547.76,942.73 L549.93,944.41 L552.09,946.10 L554.25,947.79 L556.42,949.48 L558.58,951.17 L560.75,952.86 L562.91,954.54 L565.08,956.23 L567.25,957.92 L569.41,959.61 L571.58,961.30 L573.74,962.99 L575.91,964.68 L578.08,966.37 L580.25,968.05 L582.41,969.74 L584.58,971.43 L586.75,973.12 L588.92,974.81 L591.08,976.50 L593.25,978.19 L595.42,979.88 L597.59,981.57 L599.76,983.25 L601.93,984.94 L604.10,986.63 L606.27,988.32 L608.44,990.01 L610.60,991.70 L612.77,993.39 L614.94,995.08 L617.11,996.77 L619.28,998.45 L621.45,1000.14 L623.62,1001.83 L625.79,1003.52 L627.96,1005.21 L630.13,1006.90 L632.30,1008.59 L634.47,1010.28 L636.64,1011.97 L638.81,1013.66 L640.98,1015.35 L643.15,1017.03 L645.33,1018.72 L647.50,1020.41 L649.67,1022.10 L651.84,1023.79 L654.01,1025.48 L656.18,1027.17 L658.35,1028.86 L660.52,1030.55 L662.69,1032.24 L664.86,1033.93 L667.03,1035.62 L669.20,1037.30 L671.38,1038.99 L673.55,1040.68 L675.72,1042.37 L677.89,1044.06 L680.06,1045.75 L682.23,1047.44 L684.40,1049.13 L686.57,1050.82 L688.75,1052.51 L690.92,1054.20 L693.09,1055.89 L695.26,1057.58 L697.43,1059.26 L699.60,1060.95 L701.77,1062.64 L703.94,1064.33 L706.12,1066.02 L708.29,1067.71 L710.46,1069.40 L712.63,1071.09 L714.80,1072.78 L716.97,1074.47 L719.15,1076.16 L721.32,1077.85 L723.49,1079.54 L725.66,1081.22 L727.83,1082.91 L730.00,1084.60 L732.17,1086.29 L734.35,1087.98 L736.52,1089.67 L738.69,1091.36" stroke="#b9529f"/>
<path d="M305.30,896.84 L305.30,896.67 L305.30,892.23 L305.30,887.78 L305.30,883.34 L305.30,878.90 L305.30,874.47 L305.31,870.03 L305.31,865.59 L305.31,861.16 L305.31,856.73 L305.32,852.30 L305.32,847.88 L305.32,843.46 L305.33,839.04 L305.33,834.63 L305.34,830.22 L305.35,825.81 L305.35,821.42 L305.36,817.02 L305.37,812.64 L305.38,808.26 L305.39,803.90 L305.41,799.54 L305.42,795.20 L305.44,790.86 L305.46,786.55 L305.48,782.25 L305.50,777.96 L305.53,773.70 L305.56,769.46 L305.59,765.24 L305.63,761.05 L305.67,756.90 L305.72,752.77 L305.77,748.69 L305.83,744.65 L305.90,740.65 L305.97,736.71 L306.05,732.82 L306.15,729.00 L306.25,725.25 L306.36,721.58 L306.49,717.98 L306.64,714.48 L306.80,711.08 L306.98,707.79 L307.18,704.62 L307.40,701.57 L307.65,698.66 L307.75,697.60 L307.86,696.55 L307.97,695.53 L308.08,694.53 L308.20,693.55 L308.32,692.60 L308.45,691.67 L308.58,690.77 L308.72,689.89 L308.86,689.04 L309.01,688.21 L309.17,687.41 L309.33,686.64 L309.50,685.90 L309.67,685.18 L309.85,684.50 L310.04,683.84 L310.23,683.21 L310.43,682.61 L310.64,682.05 L310.86,681.51 L311.08,681.01 L311.31,680.54 L311.55,680.09 L311.80,679.69 L312.05,679.31 L312.32,678.97 L312.59,678.66 L312.88,678.38 L313.17,678.14 L313.47,677.93 L313.78,677.76 L314.10,677.62 L314.44,677.51 L314.78,677.44 L315.13,677.40 L315.49,677.39 L315.87,677.43 L316.25,677.49 L316.65,677.59 L317.05,677.72 L317.47,677.89 L317.90,678.09 L318.34,678.33 L318.80,678.60 L319.26,678.90 L319.74,679.23 L320.22,679.60 L320.73,680.00 L321.24,680.44 L321.76,680.90 L322.30,681.40 L322.85,681.93 L323.41,682.49 L323.98,683.08 L324.57,683.70 L325.16,684.35 L325.77,685.03 L326.39,685.74 L327.03,686.48 L327.67,687.24 L328.33,688.04 L329.00,688.86 L329.68,689.70 L330.37,690.58 L331.07,691.47 L331.79,692.40 L332.51,693.34 L333.25,694.32 L333.99,695.31 L334.75,696.33 L335.52,697.37 L336.30,698.43 L337.09,699.51 L337.89,700.62 L338.70,701.74 L339.51,702.88 L340.34,704.05 L341.18,705.23 L342.03,706.43 L342.88,707.64 L343.75,708.88 L344.62,710.13 L345.50,711.39 L346.39,712.67 L347.29,713.97 L348.20,715.28 L349.11,716.61 L350.04,717.95 L350.96,719.30 L351.90,720.66 L352.85,722.04 L353.80,723.43 L354.76,724.83 L355.72,726.24 L356.69,727.66 L357.67,729.10 L358.65,730.54 L359.65,731.99 L360.64,733.46 L361.65,734.93 L362.66,736.41 L363.67,737.89 L364.69,739.39 L365.72,740.89 L366.75,742.41 L367.79,743.92 L368.83,745.45 L369.88,746.98 L370.93,748.52 L371.99,750.06 L373.06,751.61 L374.13,753.17 L375.20,754.73 L376.29,756.30 L377.37,757.87 L378.46,759.45 L379.56,761.03 L380.66,762.61 L381.77,764.20 L382.88,765.80 L384.00,767.40 L385.12,769.00 L386.25,770.60 L387.39,772.21 L388.53,773.83 L389.67,775.44 L390.83,777.06 L391.98,778.68 L393.15,780.31 L394.32,781.93 L395.49,783.56 L396.67,785.20 L397.86,786.83 L399.05,788.47 L400.26,790.11 L401.46,791.75 L402.68,793.39 L403.90,795.04 L405.13,796.68 L406.36,798.33 L407.61,799.98 L408.86,801.64 L410.12,803.29 L411.38,804.94 L412.66,806.60 L413.94,808.26 L415.23,809.92 L416.53,811.58 L417.84,813.24 L419.15,814.90 L420.48,816.57 L421.81,818.23 L423.16,819.90 L424.51,821.57 L425.88,823.24 L427.25,824.91 L428.64,826.58 L430.03,828.25 L431.43,829.92 L432.85,831.59 L434.28,833.26 L435.71,834.94 L437.16,836.61 L438.62,838.29 L440.09,839.96 L441.57,841.64 L443.06,843.32 L444.57,844.99 L446.09,846.67 L447.61,848.35 L449.15,850.03 L450.71,851.71 L452.27,853.39 L453.85,855.07 L455.43,856.75 L457.03,858.43 L458.65,860.11 L460.27,861.79 L461.91,863.47 L463.56,865.16 L465.22,866.84 L466.89,868.52 L468.58,870.20 L470.27,871.89 L471.98,873.57 L473.70,875.25 L475.43,876.94 L477.18,878.62 L478.93,880.31 L480.70,881.99 L482.47,883.68 L484.26,885.36 L486.06,887.05 L487.87,888.73 L489.69,890.42 L491.52,892.10 L493.37,893.79 L495.22,895.48 L497.08,897.16 L498.95,898.85 L500.83,900.54 L502.72,902.22 L504.62,903.91 L506.53,905.60 L508.44,907.28 L510.37,908.97 L512.30,910.66 L514.24,912.34 L516.19,914.03 L518.15,915.72 L520.11,917.41 L522.09,919.09 L524.06,920.78 L526.05,922.47 L528.04,924.16 L530.04,925.84 L532.05,927.53 L534.06,929.22 L536.08,930.91 L538.10,932.60 L540.13,934.28 L542.16,935.97 L544.20,937.66 L546.25,939.35 L548.29,941.04 L550.35,942.73 L552.41,944.41 L554.47,946.10 L556.54,947.79 L558.61,949.48 L560.68,951.17 L562.76,952.86 L564.84,954.54 L566.93,956.23 L569.02,957.92 L571.11,959.61 L573.21,961.30 L575.31,962.99 L577.41,964.68 L579.51,966.37 L581.62,968.05 L583.73,969.74 L585.84,971.43 L587.96,973.12 L590.08,974.81 L592.20,976.50 L594.32,978.19 L596.44,979.88 L598.57,981.57 L600.69,983.25 L602.82,984.94 L604.96,986.63 L607.09,988.32 L609.22,990.01 L611.36,991.70 L613.50,993.39 L615.64,995.08 L617.78,996.77 L619.92,998.45 L622.06,1000.14 L624.20,1001.83 L626.35,1003.52 L628.50,1005.21 L630.64,1006.90 L632.79,1008.59 L634.94,1010.28 L637.09,1011.97 L639.24,1013.66 L641.40,1015.35 L643.55,1017.03 L645.70,1018.72 L647.86,1020.41 L650.01,1022.10 L652.17,1023.79 L654.32,1025.48 L656.48,1027.17 L658.64,1028.86 L660.80,1030.55 L662.96,1032.24 L665.12,1033.93 L667.28,1035.62 L669.44,1037.30 L671.60,1038.99 L673.76,1040.68 L675.92,1042.37 L678.08,1044.06 L680.25,1045.75 L682.41,1047.44 L684.57,1049.13 L686.74,1050.82 L688.90,1052.51 L691.07,1054.20 L693.23,1055.89 L695.40,1057.58 L697.56,1059.26 L699.73,1060.95 L701.89,1062.64 L704.06,1064.33 L706.23,1066.02 L708.39,1067.71 L710.56,1069.40 L712.73,1071.09 L714.90,1072.78 L717.06,1074.47 L719.23,1076.16 L721.40,1077.85 L723.57,1079.54 L725.73,1081.22 L727.90,1082.91 L730.07,1084.60 L732.24,1086.29 L734.41,1087.98 L736.58,1089.67 L738.75,1091.36" stroke="#231f20"/>
<path d="M373.78,896.84 L373.78,896.67 L373.78,892.23 L373.78,887.78 L373.78,883.34 L373.78,878.90 L373.79,874.47 L373.79,870.03 L373.79,865.59 L373.79,861.16 L373.80,856.73 L373.80,852.30 L373.80,847.88 L373.81,843.46 L373.81,839.04 L373.82,834.63 L373.82,830.22 L373.83,825.81 L373.84,821.42 L373.85,817.02 L373.85,812.64 L373.86,808.26 L373.88,803.90 L373.89,799.54 L373.90,795.20 L373.92,790.86 L373.94,786.55 L373.96,782.25 L373.98,777.96 L374.01,773.70 L374.04,769.46 L374.07,765.24 L374.11,761.05 L374.15,756.90 L374.20,752.77 L374.25,748.69 L374.31,744.65 L374.38,740.65 L374.45,736.71 L374.53,732.82 L374.62,729.00 L374.73,725.25 L374.84,721.58 L374.97,717.98 L375.12,714.48 L375.28,711.08 L375.46,707.79 L375.65,704.62 L375.88,701.57 L376.12,698.66 L376.22,697.60 L376.33,696.55 L376.44,695.53 L376.55,694.53 L376.67,693.55 L376.79,692.60 L376.92,691.67 L377.05,690.77 L377.19,689.89 L377.33,689.04 L377.48,688.21 L377.64,687.41 L377.80,686.64 L377.96,685.90 L378.14,685.18 L378.32,684.50 L378.50,683.84 L378.69,683.21 L378.89,682.61 L379.10,682.05 L379.32,681.51 L379.54,681.01 L379.77,680.54 L380.01,680.09 L380.25,679.69 L380.51,679.31 L380.77,678.97 L381.04,678.66 L381.33,678.38 L381.62,678.14 L381.92,677.93 L382.23,677.76 L382.55,677.62 L382.88,677.51 L383.22,677.44 L383.57,677.40 L383.93,677.39 L384.30,677.43 L384.68,677.49 L385.08,677.59 L385.48,677.72 L385.90,677.89 L386.32,678.09 L386.76,678.33 L387.21,678.60 L387.67,678.90 L388.15,679.23 L388.63,679.60 L389.13,680.00 L389.64,680.44 L390.16,680.90 L390.69,681.40 L391.24,681.93 L391.79,682.49 L392.36,683.08 L392.94,683.70 L393.54,684.35 L394.14,685.03 L394.76,685.74 L395.38,686.48 L396.02,687.24 L396.67,688.04 L397.34,688.86 L398.01,689.70 L398.69,690.58 L399.39,691.47 L400.10,692.40 L400.81,693.34 L401.54,694.32 L402.28,695.31 L403.03,696.33 L403.79,697.37 L404.56,698.43 L405.34,699.51 L406.13,700.62 L406.92,701.74 L407.73,702.88 L408.55,704.05 L409.37,705.23 L410.21,706.43 L411.05,707.64 L411.90,708.88 L412.76,710.13 L413.63,711.39 L414.50,712.67 L415.38,713.97 L416.27,715.28 L417.17,716.61 L418.07,717.95 L418.98,719.30 L419.90,720.66 L420.82,722.04 L421.75,723.43 L422.68,724.83 L423.62,726.24 L424.57,727.66 L425.52,729.10 L426.48,730.54 L427.44,731.99 L428.40,733.46 L429.37,734.93 L430.35,736.41 L431.33,737.89 L432.32,739.39 L433.30,740.89 L434.30,742.41 L435.29,743.92 L436.29,745.45 L437.30,746.98 L438.31,748.52 L439.32,750.06 L440.33,751.61 L441.35,753.17 L442.37,754.73 L443.39,756.30 L444.42,757.87 L445.45,759.45 L446.48,761.03 L447.51,762.61 L448.55,764.20 L449.59,765.80 L450.63,767.40 L451.68,769.00 L452.72,770.60 L453.77,772.21 L454.82,773.83 L455.87,775.44 L456.93,777.06 L457.99,778.68 L459.04,780.31 L460.10,781.93 L461.17,783.56 L462.23,785.20 L463.30,786.83 L464.36,788.47 L465.43,790.11 L466.50,791.75 L467.57,793.39 L468.65,795.04 L469.72,796.68 L470.80,798.33 L471.88,799.98 L472.95,801.64 L474.04,803.29 L475.12,804.94 L476.20,806.60 L477.29,808.26 L478.37,809.92 L479.46,811.58 L480.55,813.24 L481.64,814.90 L482.73,816.57 L483.83,818.23 L484.92,819.90 L486.02,821.57 L487.12,823.24 L488.22,824.91 L489.32,826.58 L490.42,828.25 L491.53,829.92 L492.64,831.59 L493.74,833.26 L494.85,834.94 L495.97,836.61 L497.08,838.29 L498.19,839.96 L499.31,841.64 L500.43,843.32 L501.55,844.99 L502.68,846.67 L503.80,848.35 L504.93,850.03 L506.06,851.71 L507.19,853.39 L508.33,855.07 L509.46,856.75 L510.60,858.43 L511.75,860.11 L512.89,861.79 L514.04,863.47 L515.19,865.16 L516.35,866.84 L517.51,868.52 L518.67,870.20 L519.83,871.89 L521.00,873.57 L522.17,875.25 L523.34,876.94 L524.52,878.62 L525.71,880.31 L526.89,881.99 L528.09,883.68 L529.28,885.36 L530.48,887.05 L531.69,888.73 L532.90,890.42 L534.11,892.10 L535.34,893.79 L536.56,895.48 L537.79,897.16 L539.03,898.85 L540.27,900.54 L541.52,902.22 L542.78,903.91 L544.04,905.60 L545.31,907.28 L546.59,908.97 L547.87,910.66 L549.16,912.34 L550.46,914.03 L551.77,915.72 L553.08,917.41 L554.40,919.09 L555.73,920.78 L557.07,922.47 L558.42,924.16 L559.77,925.84 L561.14,927.53 L562.51,929.22 L563.89,930.91 L565.29,932.60 L566.69,934.28 L568.10,935.97 L569.53,937.66 L570.96,939.35 L572.40,941.04 L573.86,942.73 L575.32,944.41 L576.80,946.10 L578.29,947.79 L579.79,949.48 L581.30,951.17 L582.82,952.86 L584.35,954.54 L585.90,956.23 L587.45,957.92 L589.02,959.61 L590.60,961.30 L592.19,962.99 L593.80,964.68 L595.41,966.37 L597.04,968.05 L598.68,969.74 L600.33,971.43 L602.00,973.12 L603.67,974.81 L605.36,976.50 L607.06,978.19 L608.77,979.88 L610.49,981.57 L612.22,983.25 L613.97,984.94 L615.73,986.63 L617.49,988.32 L619.27,990.01 L621.06,991.70 L622.86,993.39 L624.67,995.08 L626.50,996.77 L628.33,998.45 L630.17,1000.14 L632.02,1001.83 L633.89,1003.52 L635.76,1005.21 L637.64,1006.90 L639.53,1008.59 L641.43,1010.28 L643.34,1011.97 L645.25,1013.66 L647.18,1015.35 L649.11,1017.03 L651.06,1018.72 L653.01,1020.41 L654.96,1022.10 L656.93,1023.79 L658.90,1025.48 L660.88,1027.17 L662.87,1028.86 L664.86,1030.55 L666.86,1032.24 L668.86,1033.93 L670.88,1035.62 L672.89,1037.30 L674.92,1038.99 L676.95,1040.68 L678.98,1042.37 L681.02,1044.06 L683.06,1045.75 L685.11,1047.44 L687.17,1049.13 L689.23,1050.82 L691.29,1052.51 L693.36,1054.20 L695.43,1055.89 L697.50,1057.58 L699.58,1059.26 L701.66,1060.95 L703.75,1062.64 L705.84,1064.33 L707.93,1066.02 L710.03,1067.71 L712.13,1069.40 L714.23,1071.09 L716.33,1072.78 L718.44,1074.47 L720.55,1076.16 L722.67,1077.85 L724.78,1079.54 L726.90,1081.22 L729.02,1082.91 L731.14,1084.60 L733.26,1086.29 L735.39,1087.98 L737.52,1089.67 L739.65,1091.36" stroke="#ed1c24"/>
<path d="M73.3,677.40 H714.10" stroke="#231f20" stroke-width="1.3" stroke-dasharray="16.3 11 1.8 10.7"/>
</g>
<path d="M213.50,159.60 L296.90,287.00" stroke="#231f20" stroke-width="3" fill="none" stroke-dasharray="9.80 7.00" stroke-dashoffset="5.30"/>
<path d="M400.80,150.10 L511.00,234.90" stroke="#231f20" stroke-width="3" fill="none" stroke-dasharray="9.80 7.50" stroke-dashoffset="4.80"/>
<path d="M440.60,709.10 L523.50,835.50" stroke="#231f20" stroke-width="3" fill="none" stroke-dasharray="9.80 7.10" stroke-dashoffset="5.00"/>
<path d="M498.40,930.80 L658.20,1054.50" stroke="#231f20" stroke-width="3" fill="none" stroke-dasharray="9.80 7.00" stroke-dashoffset="6.90"/>
<text transform="translate(50.20,139.90) scale(1.000,1.050)" font-size="27" font-family="Liberation Serif" fill="#231f20" >10</text><text transform="translate(77.20,123.30) scale(1.000,1.050)" font-size="18" font-family="Liberation Serif" fill="#231f20" >1</text>
<text transform="translate(50.20,316.85) scale(1.000,1.050)" font-size="27" font-family="Liberation Serif" fill="#231f20" >10</text><text transform="translate(77.20,300.25) scale(1.000,1.050)" font-size="18" font-family="Liberation Serif" fill="#231f20" >0</text>
<text transform="translate(50.20,493.80) scale(1.000,1.050)" font-size="27" font-family="Liberation Serif" fill="#231f20" >10</text><text transform="translate(77.20,477.20) scale(1.000,1.050)" font-size="18" font-family="Liberation Serif" fill="#231f20" >−1</text>
<text transform="translate(241.81,520.50) scale(1.000,1.050)" font-size="27" font-family="Liberation Serif" fill="#231f20" >10</text><text transform="translate(268.81,503.90) scale(1.000,1.050)" font-size="18" font-family="Liberation Serif" fill="#231f20" >0</text>
<text transform="translate(469.31,520.50) scale(1.000,1.050)" font-size="27" font-family="Liberation Serif" fill="#231f20" >10</text><text transform="translate(496.31,503.90) scale(1.000,1.050)" font-size="18" font-family="Liberation Serif" fill="#231f20" >1</text>
<text transform="translate(696.80,520.50) scale(1.000,1.050)" font-size="27" font-family="Liberation Serif" fill="#231f20" >10</text><text transform="translate(723.80,503.90) scale(1.000,1.050)" font-size="18" font-family="Liberation Serif" fill="#231f20" >2</text>
<text transform="translate(35.80,297.90) rotate(-90) scale(1.000,1.000)" font-size="28.4" font-family="Liberation Serif" fill="#231f20" >α (deg)</text>
<text transform="translate(312.60,555.30) scale(1.000,1.000)" font-size="27" font-family="Liberation Serif" fill="#231f20" >Fr</text>
<text transform="translate(337.00,568.30) scale(1.000,1.000)" font-size="21" font-family="Liberation Serif" fill="#231f20" >L</text>
<text transform="translate(355.05,555.30) scale(1.200,1.000)" font-size="27" font-family="Liberation Serif" fill="#231f20" >=</text>
<text transform="translate(379.80,555.30) scale(1.000,1.000)" font-size="27" font-family="Liberation Serif" fill="#231f20" font-style="italic">U</text>
<text transform="translate(405.80,555.30) scale(1.000,1.000)" font-size="27" font-family="Liberation Serif" fill="#231f20" >/</text>
<text transform="translate(419.30,555.30) scale(1.000,1.000)" font-size="27" font-family="Liberation Serif" fill="#231f20" >(</text>
<text transform="translate(428.00,555.30) scale(1.000,1.000)" font-size="27" font-family="Liberation Serif" fill="#231f20" font-style="italic">g</text>
<text transform="translate(449.50,555.30) scale(1.000,1.000)" font-size="27" font-family="Liberation Serif" fill="#231f20" font-style="italic">L</text>
<text transform="translate(465.00,555.30) scale(1.000,1.000)" font-size="27" font-family="Liberation Serif" fill="#231f20" >)</text>
<text transform="translate(475.30,540.60) scale(1.000,1.100)" font-size="20.5" font-family="Liberation Serif" fill="#231f20" >1/2</text>
<text transform="translate(662.80,59.60) scale(1.000,1.000)" font-size="28" font-family="Liberation Serif" fill="#231f20" >(a)</text>
<text transform="translate(50.20,738.80) scale(1.000,1.050)" font-size="27" font-family="Liberation Serif" fill="#231f20" >10</text><text transform="translate(77.20,722.20) scale(1.000,1.050)" font-size="18" font-family="Liberation Serif" fill="#231f20" >1</text>
<text transform="translate(50.20,915.75) scale(1.000,1.050)" font-size="27" font-family="Liberation Serif" fill="#231f20" >10</text><text transform="translate(77.20,899.15) scale(1.000,1.050)" font-size="18" font-family="Liberation Serif" fill="#231f20" >0</text>
<text transform="translate(50.20,1092.70) scale(1.000,1.050)" font-size="27" font-family="Liberation Serif" fill="#231f20" >10</text><text transform="translate(77.20,1076.10) scale(1.000,1.050)" font-size="18" font-family="Liberation Serif" fill="#231f20" >−1</text>
<text transform="translate(241.81,1119.40) scale(1.000,1.050)" font-size="27" font-family="Liberation Serif" fill="#231f20" >10</text><text transform="translate(268.81,1102.80) scale(1.000,1.050)" font-size="18" font-family="Liberation Serif" fill="#231f20" >0</text>
<text transform="translate(469.31,1119.40) scale(1.000,1.050)" font-size="27" font-family="Liberation Serif" fill="#231f20" >10</text><text transform="translate(496.31,1102.80) scale(1.000,1.050)" font-size="18" font-family="Liberation Serif" fill="#231f20" >1</text>
<text transform="translate(696.80,1119.40) scale(1.000,1.050)" font-size="27" font-family="Liberation Serif" fill="#231f20" >10</text><text transform="translate(723.80,1102.80) scale(1.000,1.050)" font-size="18" font-family="Liberation Serif" fill="#231f20" >2</text>
<text transform="translate(35.80,896.70) rotate(-90) scale(1.000,1.000)" font-size="28.4" font-family="Liberation Serif" fill="#231f20" >α (deg)</text>
<text transform="translate(311.00,1154.10) scale(1.000,1.000)" font-size="27" font-family="Liberation Serif" fill="#231f20" >Fr</text>
<text transform="translate(335.40,1167.10) scale(1.000,1.000)" font-size="21" font-family="Liberation Serif" fill="#231f20" >B</text>
<text transform="translate(355.05,1154.10) scale(1.200,1.000)" font-size="27" font-family="Liberation Serif" fill="#231f20" >=</text>
<text transform="translate(379.80,1154.10) scale(1.000,1.000)" font-size="27" font-family="Liberation Serif" fill="#231f20" font-style="italic">U</text>
<text transform="translate(405.80,1154.10) scale(1.000,1.000)" font-size="27" font-family="Liberation Serif" fill="#231f20" >/</text>
<text transform="translate(419.60,1154.10) scale(1.000,1.000)" font-size="27" font-family="Liberation Serif" fill="#231f20" >(</text>
<text transform="translate(428.60,1154.10) scale(1.000,1.000)" font-size="27" font-family="Liberation Serif" fill="#231f20" font-style="italic">g</text>
<text transform="translate(448.70,1154.10) scale(1.000,1.000)" font-size="27" font-family="Liberation Serif" fill="#231f20" font-style="italic">B</text>
<text transform="translate(466.90,1154.10) scale(1.000,1.000)" font-size="27" font-family="Liberation Serif" fill="#231f20" >)</text>
<text transform="translate(477.30,1139.40) scale(1.000,1.100)" font-size="20.5" font-family="Liberation Serif" fill="#231f20" >1/2</text>
<text transform="translate(663.30,659.60) scale(1.000,1.000)" font-size="28" font-family="Liberation Serif" fill="#231f20" >(b)</text>
<text transform="translate(609.20,333.60) scale(1.000,1.050)" font-size="27" font-family="Liberation Serif" fill="#231f20" >0.25</text>
<text transform="translate(567.30,355.90) scale(1.000,1.050)" font-size="27" font-family="Liberation Serif" fill="#231f20" >1</text>
<text transform="translate(528.20,377.30) scale(1.000,1.050)" font-size="27" font-family="Liberation Serif" fill="#231f20" >4</text>
<text transform="translate(486.50,399.60) scale(1.000,1.050)" font-size="27" font-family="Liberation Serif" fill="#231f20" >16</text>
<text transform="translate(377.50,448.70) scale(1.000,1.000)" font-size="27" font-family="Liberation Serif" fill="#231f20" font-style="italic">A</text>
<text transform="translate(399.55,448.90) scale(1.200,1.000)" font-size="27" font-family="Liberation Serif" fill="#231f20" >=</text>
<text transform="translate(423.70,448.90) scale(1.000,1.050)" font-size="27" font-family="Liberation Serif" fill="#231f20" >64</text>
<text transform="translate(460.80,183.70) scale(1.000,1.050)" font-size="27" font-family="Liberation Serif" fill="#231f20" >-1</text>
<text transform="translate(226.50,253.80) scale(1.000,1.050)" font-size="27" font-family="Liberation Serif" fill="#231f20" >-2</text>
<text transform="translate(490.50,759.40) scale(1.000,1.050)" font-size="27" font-family="Liberation Serif" fill="#231f20" >-2</text>
<text transform="translate(550.80,1018.80) scale(1.000,1.050)" font-size="27" font-family="Liberation Serif" fill="#231f20" >-1</text>
<text transform="translate(134.00,906.50) rotate(-90) scale(1.000,1.050)" font-size="27" font-family="Liberation Serif" fill="#231f20" >0.25</text>
<text transform="translate(196.00,873.00) rotate(-90) scale(1.000,1.050)" font-size="27" font-family="Liberation Serif" fill="#231f20" >1</text>
<text transform="translate(261.00,873.00) rotate(-90) scale(1.000,1.050)" font-size="27" font-family="Liberation Serif" fill="#231f20" >4</text>
<text transform="translate(331.00,886.00) rotate(-90) scale(1.000,1.050)" font-size="27" font-family="Liberation Serif" fill="#231f20" >16</text>
<text transform="translate(398.20,934.00) rotate(-90) scale(1.000,1.000)" font-size="27" font-family="Liberation Serif" fill="#231f20" font-style="italic">A</text>
<text transform="translate(398.20,910.35) rotate(-90) scale(1.200,1.000)" font-size="27" font-family="Liberation Serif" fill="#231f20" >=</text>
<text transform="translate(398.20,886.90) rotate(-90) scale(1.000,1.050)" font-size="27" font-family="Liberation Serif" fill="#231f20" >64</text>
</svg>
</body></html>
